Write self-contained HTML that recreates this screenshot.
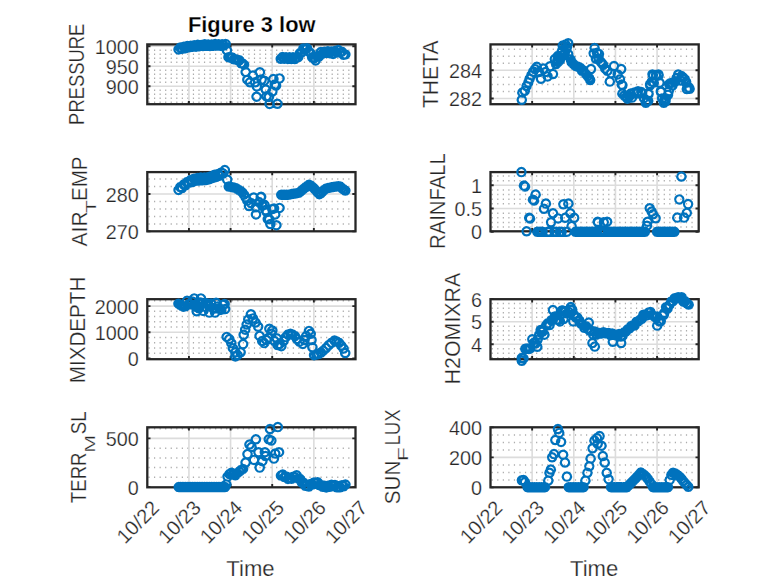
<!DOCTYPE html><html><head><meta charset="utf-8"><style>html,body{margin:0;padding:0;background:#fff;width:778px;height:583px;overflow:hidden}svg{display:block}text{font-family:"Liberation Sans",sans-serif;stroke:#fff;stroke-width:0.25px;paint-order:normal}</style></head><body><svg width="778" height="583" viewBox="0 0 778 583"><rect width="778" height="583" fill="#fff"/><g><path d="M148.45 101.45h1.2v1.5h-1.2zM154 101.45h1.2v1.5h-1.2zM159.55 101.45h1.2v1.5h-1.2zM165.1 101.45h1.2v1.5h-1.2zM170.65 101.45h1.2v1.5h-1.2zM176.2 101.45h1.2v1.5h-1.2zM181.75 101.45h1.2v1.5h-1.2zM187.3 101.45h1.2v1.5h-1.2zM192.85 101.45h1.2v1.5h-1.2zM198.4 101.45h1.2v1.5h-1.2zM203.95 101.45h1.2v1.5h-1.2zM209.5 101.45h1.2v1.5h-1.2zM215.05 101.45h1.2v1.5h-1.2zM220.6 101.45h1.2v1.5h-1.2zM226.15 101.45h1.2v1.5h-1.2zM231.7 101.45h1.2v1.5h-1.2zM237.25 101.45h1.2v1.5h-1.2zM242.8 101.45h1.2v1.5h-1.2zM248.35 101.45h1.2v1.5h-1.2zM253.9 101.45h1.2v1.5h-1.2zM259.45 101.45h1.2v1.5h-1.2zM265 101.45h1.2v1.5h-1.2zM270.55 101.45h1.2v1.5h-1.2zM276.1 101.45h1.2v1.5h-1.2zM281.65 101.45h1.2v1.5h-1.2zM287.2 101.45h1.2v1.5h-1.2zM292.75 101.45h1.2v1.5h-1.2zM298.3 101.45h1.2v1.5h-1.2zM303.85 101.45h1.2v1.5h-1.2zM309.4 101.45h1.2v1.5h-1.2zM314.95 101.45h1.2v1.5h-1.2zM320.5 101.45h1.2v1.5h-1.2zM326.05 101.45h1.2v1.5h-1.2zM331.6 101.45h1.2v1.5h-1.2zM337.15 101.45h1.2v1.5h-1.2zM342.7 101.45h1.2v1.5h-1.2zM348.25 101.45h1.2v1.5h-1.2zM148.45 97.45h1.2v1.5h-1.2zM154 97.45h1.2v1.5h-1.2zM159.55 97.45h1.2v1.5h-1.2zM165.1 97.45h1.2v1.5h-1.2zM170.65 97.45h1.2v1.5h-1.2zM176.2 97.45h1.2v1.5h-1.2zM181.75 97.45h1.2v1.5h-1.2zM187.3 97.45h1.2v1.5h-1.2zM192.85 97.45h1.2v1.5h-1.2zM198.4 97.45h1.2v1.5h-1.2zM203.95 97.45h1.2v1.5h-1.2zM209.5 97.45h1.2v1.5h-1.2zM215.05 97.45h1.2v1.5h-1.2zM220.6 97.45h1.2v1.5h-1.2zM226.15 97.45h1.2v1.5h-1.2zM231.7 97.45h1.2v1.5h-1.2zM237.25 97.45h1.2v1.5h-1.2zM242.8 97.45h1.2v1.5h-1.2zM248.35 97.45h1.2v1.5h-1.2zM253.9 97.45h1.2v1.5h-1.2zM259.45 97.45h1.2v1.5h-1.2zM265 97.45h1.2v1.5h-1.2zM270.55 97.45h1.2v1.5h-1.2zM276.1 97.45h1.2v1.5h-1.2zM281.65 97.45h1.2v1.5h-1.2zM287.2 97.45h1.2v1.5h-1.2zM292.75 97.45h1.2v1.5h-1.2zM298.3 97.45h1.2v1.5h-1.2zM303.85 97.45h1.2v1.5h-1.2zM309.4 97.45h1.2v1.5h-1.2zM314.95 97.45h1.2v1.5h-1.2zM320.5 97.45h1.2v1.5h-1.2zM326.05 97.45h1.2v1.5h-1.2zM331.6 97.45h1.2v1.5h-1.2zM337.15 97.45h1.2v1.5h-1.2zM342.7 97.45h1.2v1.5h-1.2zM348.25 97.45h1.2v1.5h-1.2zM148.45 93.45h1.2v1.5h-1.2zM154 93.45h1.2v1.5h-1.2zM159.55 93.45h1.2v1.5h-1.2zM165.1 93.45h1.2v1.5h-1.2zM170.65 93.45h1.2v1.5h-1.2zM176.2 93.45h1.2v1.5h-1.2zM181.75 93.45h1.2v1.5h-1.2zM187.3 93.45h1.2v1.5h-1.2zM192.85 93.45h1.2v1.5h-1.2zM198.4 93.45h1.2v1.5h-1.2zM203.95 93.45h1.2v1.5h-1.2zM209.5 93.45h1.2v1.5h-1.2zM215.05 93.45h1.2v1.5h-1.2zM220.6 93.45h1.2v1.5h-1.2zM226.15 93.45h1.2v1.5h-1.2zM231.7 93.45h1.2v1.5h-1.2zM237.25 93.45h1.2v1.5h-1.2zM242.8 93.45h1.2v1.5h-1.2zM248.35 93.45h1.2v1.5h-1.2zM253.9 93.45h1.2v1.5h-1.2zM259.45 93.45h1.2v1.5h-1.2zM265 93.45h1.2v1.5h-1.2zM270.55 93.45h1.2v1.5h-1.2zM276.1 93.45h1.2v1.5h-1.2zM281.65 93.45h1.2v1.5h-1.2zM287.2 93.45h1.2v1.5h-1.2zM292.75 93.45h1.2v1.5h-1.2zM298.3 93.45h1.2v1.5h-1.2zM303.85 93.45h1.2v1.5h-1.2zM309.4 93.45h1.2v1.5h-1.2zM314.95 93.45h1.2v1.5h-1.2zM320.5 93.45h1.2v1.5h-1.2zM326.05 93.45h1.2v1.5h-1.2zM331.6 93.45h1.2v1.5h-1.2zM337.15 93.45h1.2v1.5h-1.2zM342.7 93.45h1.2v1.5h-1.2zM348.25 93.45h1.2v1.5h-1.2zM148.45 89.45h1.2v1.5h-1.2zM154 89.45h1.2v1.5h-1.2zM159.55 89.45h1.2v1.5h-1.2zM165.1 89.45h1.2v1.5h-1.2zM170.65 89.45h1.2v1.5h-1.2zM176.2 89.45h1.2v1.5h-1.2zM181.75 89.45h1.2v1.5h-1.2zM187.3 89.45h1.2v1.5h-1.2zM192.85 89.45h1.2v1.5h-1.2zM198.4 89.45h1.2v1.5h-1.2zM203.95 89.45h1.2v1.5h-1.2zM209.5 89.45h1.2v1.5h-1.2zM215.05 89.45h1.2v1.5h-1.2zM220.6 89.45h1.2v1.5h-1.2zM226.15 89.45h1.2v1.5h-1.2zM231.7 89.45h1.2v1.5h-1.2zM237.25 89.45h1.2v1.5h-1.2zM242.8 89.45h1.2v1.5h-1.2zM248.35 89.45h1.2v1.5h-1.2zM253.9 89.45h1.2v1.5h-1.2zM259.45 89.45h1.2v1.5h-1.2zM265 89.45h1.2v1.5h-1.2zM270.55 89.45h1.2v1.5h-1.2zM276.1 89.45h1.2v1.5h-1.2zM281.65 89.45h1.2v1.5h-1.2zM287.2 89.45h1.2v1.5h-1.2zM292.75 89.45h1.2v1.5h-1.2zM298.3 89.45h1.2v1.5h-1.2zM303.85 89.45h1.2v1.5h-1.2zM309.4 89.45h1.2v1.5h-1.2zM314.95 89.45h1.2v1.5h-1.2zM320.5 89.45h1.2v1.5h-1.2zM326.05 89.45h1.2v1.5h-1.2zM331.6 89.45h1.2v1.5h-1.2zM337.15 89.45h1.2v1.5h-1.2zM342.7 89.45h1.2v1.5h-1.2zM348.25 89.45h1.2v1.5h-1.2zM148.45 81.45h1.2v1.5h-1.2zM154 81.45h1.2v1.5h-1.2zM159.55 81.45h1.2v1.5h-1.2zM165.1 81.45h1.2v1.5h-1.2zM170.65 81.45h1.2v1.5h-1.2zM176.2 81.45h1.2v1.5h-1.2zM181.75 81.45h1.2v1.5h-1.2zM187.3 81.45h1.2v1.5h-1.2zM192.85 81.45h1.2v1.5h-1.2zM198.4 81.45h1.2v1.5h-1.2zM203.95 81.45h1.2v1.5h-1.2zM209.5 81.45h1.2v1.5h-1.2zM215.05 81.45h1.2v1.5h-1.2zM220.6 81.45h1.2v1.5h-1.2zM226.15 81.45h1.2v1.5h-1.2zM231.7 81.45h1.2v1.5h-1.2zM237.25 81.45h1.2v1.5h-1.2zM242.8 81.45h1.2v1.5h-1.2zM248.35 81.45h1.2v1.5h-1.2zM253.9 81.45h1.2v1.5h-1.2zM259.45 81.45h1.2v1.5h-1.2zM265 81.45h1.2v1.5h-1.2zM270.55 81.45h1.2v1.5h-1.2zM276.1 81.45h1.2v1.5h-1.2zM281.65 81.45h1.2v1.5h-1.2zM287.2 81.45h1.2v1.5h-1.2zM292.75 81.45h1.2v1.5h-1.2zM298.3 81.45h1.2v1.5h-1.2zM303.85 81.45h1.2v1.5h-1.2zM309.4 81.45h1.2v1.5h-1.2zM314.95 81.45h1.2v1.5h-1.2zM320.5 81.45h1.2v1.5h-1.2zM326.05 81.45h1.2v1.5h-1.2zM331.6 81.45h1.2v1.5h-1.2zM337.15 81.45h1.2v1.5h-1.2zM342.7 81.45h1.2v1.5h-1.2zM348.25 81.45h1.2v1.5h-1.2zM148.45 77.45h1.2v1.5h-1.2zM154 77.45h1.2v1.5h-1.2zM159.55 77.45h1.2v1.5h-1.2zM165.1 77.45h1.2v1.5h-1.2zM170.65 77.45h1.2v1.5h-1.2zM176.2 77.45h1.2v1.5h-1.2zM181.75 77.45h1.2v1.5h-1.2zM187.3 77.45h1.2v1.5h-1.2zM192.85 77.45h1.2v1.5h-1.2zM198.4 77.45h1.2v1.5h-1.2zM203.95 77.45h1.2v1.5h-1.2zM209.5 77.45h1.2v1.5h-1.2zM215.05 77.45h1.2v1.5h-1.2zM220.6 77.45h1.2v1.5h-1.2zM226.15 77.45h1.2v1.5h-1.2zM231.7 77.45h1.2v1.5h-1.2zM237.25 77.45h1.2v1.5h-1.2zM242.8 77.45h1.2v1.5h-1.2zM248.35 77.45h1.2v1.5h-1.2zM253.9 77.45h1.2v1.5h-1.2zM259.45 77.45h1.2v1.5h-1.2zM265 77.45h1.2v1.5h-1.2zM270.55 77.45h1.2v1.5h-1.2zM276.1 77.45h1.2v1.5h-1.2zM281.65 77.45h1.2v1.5h-1.2zM287.2 77.45h1.2v1.5h-1.2zM292.75 77.45h1.2v1.5h-1.2zM298.3 77.45h1.2v1.5h-1.2zM303.85 77.45h1.2v1.5h-1.2zM309.4 77.45h1.2v1.5h-1.2zM314.95 77.45h1.2v1.5h-1.2zM320.5 77.45h1.2v1.5h-1.2zM326.05 77.45h1.2v1.5h-1.2zM331.6 77.45h1.2v1.5h-1.2zM337.15 77.45h1.2v1.5h-1.2zM342.7 77.45h1.2v1.5h-1.2zM348.25 77.45h1.2v1.5h-1.2zM148.45 73.45h1.2v1.5h-1.2zM154 73.45h1.2v1.5h-1.2zM159.55 73.45h1.2v1.5h-1.2zM165.1 73.45h1.2v1.5h-1.2zM170.65 73.45h1.2v1.5h-1.2zM176.2 73.45h1.2v1.5h-1.2zM181.75 73.45h1.2v1.5h-1.2zM187.3 73.45h1.2v1.5h-1.2zM192.85 73.45h1.2v1.5h-1.2zM198.4 73.45h1.2v1.5h-1.2zM203.95 73.45h1.2v1.5h-1.2zM209.5 73.45h1.2v1.5h-1.2zM215.05 73.45h1.2v1.5h-1.2zM220.6 73.45h1.2v1.5h-1.2zM226.15 73.45h1.2v1.5h-1.2zM231.7 73.45h1.2v1.5h-1.2zM237.25 73.45h1.2v1.5h-1.2zM242.8 73.45h1.2v1.5h-1.2zM248.35 73.45h1.2v1.5h-1.2zM253.9 73.45h1.2v1.5h-1.2zM259.45 73.45h1.2v1.5h-1.2zM265 73.45h1.2v1.5h-1.2zM270.55 73.45h1.2v1.5h-1.2zM276.1 73.45h1.2v1.5h-1.2zM281.65 73.45h1.2v1.5h-1.2zM287.2 73.45h1.2v1.5h-1.2zM292.75 73.45h1.2v1.5h-1.2zM298.3 73.45h1.2v1.5h-1.2zM303.85 73.45h1.2v1.5h-1.2zM309.4 73.45h1.2v1.5h-1.2zM314.95 73.45h1.2v1.5h-1.2zM320.5 73.45h1.2v1.5h-1.2zM326.05 73.45h1.2v1.5h-1.2zM331.6 73.45h1.2v1.5h-1.2zM337.15 73.45h1.2v1.5h-1.2zM342.7 73.45h1.2v1.5h-1.2zM348.25 73.45h1.2v1.5h-1.2zM148.45 69.45h1.2v1.5h-1.2zM154 69.45h1.2v1.5h-1.2zM159.55 69.45h1.2v1.5h-1.2zM165.1 69.45h1.2v1.5h-1.2zM170.65 69.45h1.2v1.5h-1.2zM176.2 69.45h1.2v1.5h-1.2zM181.75 69.45h1.2v1.5h-1.2zM187.3 69.45h1.2v1.5h-1.2zM192.85 69.45h1.2v1.5h-1.2zM198.4 69.45h1.2v1.5h-1.2zM203.95 69.45h1.2v1.5h-1.2zM209.5 69.45h1.2v1.5h-1.2zM215.05 69.45h1.2v1.5h-1.2zM220.6 69.45h1.2v1.5h-1.2zM226.15 69.45h1.2v1.5h-1.2zM231.7 69.45h1.2v1.5h-1.2zM237.25 69.45h1.2v1.5h-1.2zM242.8 69.45h1.2v1.5h-1.2zM248.35 69.45h1.2v1.5h-1.2zM253.9 69.45h1.2v1.5h-1.2zM259.45 69.45h1.2v1.5h-1.2zM265 69.45h1.2v1.5h-1.2zM270.55 69.45h1.2v1.5h-1.2zM276.1 69.45h1.2v1.5h-1.2zM281.65 69.45h1.2v1.5h-1.2zM287.2 69.45h1.2v1.5h-1.2zM292.75 69.45h1.2v1.5h-1.2zM298.3 69.45h1.2v1.5h-1.2zM303.85 69.45h1.2v1.5h-1.2zM309.4 69.45h1.2v1.5h-1.2zM314.95 69.45h1.2v1.5h-1.2zM320.5 69.45h1.2v1.5h-1.2zM326.05 69.45h1.2v1.5h-1.2zM331.6 69.45h1.2v1.5h-1.2zM337.15 69.45h1.2v1.5h-1.2zM342.7 69.45h1.2v1.5h-1.2zM348.25 69.45h1.2v1.5h-1.2zM148.45 61.45h1.2v1.5h-1.2zM154 61.45h1.2v1.5h-1.2zM159.55 61.45h1.2v1.5h-1.2zM165.1 61.45h1.2v1.5h-1.2zM170.65 61.45h1.2v1.5h-1.2zM176.2 61.45h1.2v1.5h-1.2zM181.75 61.45h1.2v1.5h-1.2zM187.3 61.45h1.2v1.5h-1.2zM192.85 61.45h1.2v1.5h-1.2zM198.4 61.45h1.2v1.5h-1.2zM203.95 61.45h1.2v1.5h-1.2zM209.5 61.45h1.2v1.5h-1.2zM215.05 61.45h1.2v1.5h-1.2zM220.6 61.45h1.2v1.5h-1.2zM226.15 61.45h1.2v1.5h-1.2zM231.7 61.45h1.2v1.5h-1.2zM237.25 61.45h1.2v1.5h-1.2zM242.8 61.45h1.2v1.5h-1.2zM248.35 61.45h1.2v1.5h-1.2zM253.9 61.45h1.2v1.5h-1.2zM259.45 61.45h1.2v1.5h-1.2zM265 61.45h1.2v1.5h-1.2zM270.55 61.45h1.2v1.5h-1.2zM276.1 61.45h1.2v1.5h-1.2zM281.65 61.45h1.2v1.5h-1.2zM287.2 61.45h1.2v1.5h-1.2zM292.75 61.45h1.2v1.5h-1.2zM298.3 61.45h1.2v1.5h-1.2zM303.85 61.45h1.2v1.5h-1.2zM309.4 61.45h1.2v1.5h-1.2zM314.95 61.45h1.2v1.5h-1.2zM320.5 61.45h1.2v1.5h-1.2zM326.05 61.45h1.2v1.5h-1.2zM331.6 61.45h1.2v1.5h-1.2zM337.15 61.45h1.2v1.5h-1.2zM342.7 61.45h1.2v1.5h-1.2zM348.25 61.45h1.2v1.5h-1.2zM148.45 57.45h1.2v1.5h-1.2zM154 57.45h1.2v1.5h-1.2zM159.55 57.45h1.2v1.5h-1.2zM165.1 57.45h1.2v1.5h-1.2zM170.65 57.45h1.2v1.5h-1.2zM176.2 57.45h1.2v1.5h-1.2zM181.75 57.45h1.2v1.5h-1.2zM187.3 57.45h1.2v1.5h-1.2zM192.85 57.45h1.2v1.5h-1.2zM198.4 57.45h1.2v1.5h-1.2zM203.95 57.45h1.2v1.5h-1.2zM209.5 57.45h1.2v1.5h-1.2zM215.05 57.45h1.2v1.5h-1.2zM220.6 57.45h1.2v1.5h-1.2zM226.15 57.45h1.2v1.5h-1.2zM231.7 57.45h1.2v1.5h-1.2zM237.25 57.45h1.2v1.5h-1.2zM242.8 57.45h1.2v1.5h-1.2zM248.35 57.45h1.2v1.5h-1.2zM253.9 57.45h1.2v1.5h-1.2zM259.45 57.45h1.2v1.5h-1.2zM265 57.45h1.2v1.5h-1.2zM270.55 57.45h1.2v1.5h-1.2zM276.1 57.45h1.2v1.5h-1.2zM281.65 57.45h1.2v1.5h-1.2zM287.2 57.45h1.2v1.5h-1.2zM292.75 57.45h1.2v1.5h-1.2zM298.3 57.45h1.2v1.5h-1.2zM303.85 57.45h1.2v1.5h-1.2zM309.4 57.45h1.2v1.5h-1.2zM314.95 57.45h1.2v1.5h-1.2zM320.5 57.45h1.2v1.5h-1.2zM326.05 57.45h1.2v1.5h-1.2zM331.6 57.45h1.2v1.5h-1.2zM337.15 57.45h1.2v1.5h-1.2zM342.7 57.45h1.2v1.5h-1.2zM348.25 57.45h1.2v1.5h-1.2zM148.45 53.45h1.2v1.5h-1.2zM154 53.45h1.2v1.5h-1.2zM159.55 53.45h1.2v1.5h-1.2zM165.1 53.45h1.2v1.5h-1.2zM170.65 53.45h1.2v1.5h-1.2zM176.2 53.45h1.2v1.5h-1.2zM181.75 53.45h1.2v1.5h-1.2zM187.3 53.45h1.2v1.5h-1.2zM192.85 53.45h1.2v1.5h-1.2zM198.4 53.45h1.2v1.5h-1.2zM203.95 53.45h1.2v1.5h-1.2zM209.5 53.45h1.2v1.5h-1.2zM215.05 53.45h1.2v1.5h-1.2zM220.6 53.45h1.2v1.5h-1.2zM226.15 53.45h1.2v1.5h-1.2zM231.7 53.45h1.2v1.5h-1.2zM237.25 53.45h1.2v1.5h-1.2zM242.8 53.45h1.2v1.5h-1.2zM248.35 53.45h1.2v1.5h-1.2zM253.9 53.45h1.2v1.5h-1.2zM259.45 53.45h1.2v1.5h-1.2zM265 53.45h1.2v1.5h-1.2zM270.55 53.45h1.2v1.5h-1.2zM276.1 53.45h1.2v1.5h-1.2zM281.65 53.45h1.2v1.5h-1.2zM287.2 53.45h1.2v1.5h-1.2zM292.75 53.45h1.2v1.5h-1.2zM298.3 53.45h1.2v1.5h-1.2zM303.85 53.45h1.2v1.5h-1.2zM309.4 53.45h1.2v1.5h-1.2zM314.95 53.45h1.2v1.5h-1.2zM320.5 53.45h1.2v1.5h-1.2zM326.05 53.45h1.2v1.5h-1.2zM331.6 53.45h1.2v1.5h-1.2zM337.15 53.45h1.2v1.5h-1.2zM342.7 53.45h1.2v1.5h-1.2zM348.25 53.45h1.2v1.5h-1.2zM148.45 49.45h1.2v1.5h-1.2zM154 49.45h1.2v1.5h-1.2zM159.55 49.45h1.2v1.5h-1.2zM165.1 49.45h1.2v1.5h-1.2zM170.65 49.45h1.2v1.5h-1.2zM176.2 49.45h1.2v1.5h-1.2zM181.75 49.45h1.2v1.5h-1.2zM187.3 49.45h1.2v1.5h-1.2zM192.85 49.45h1.2v1.5h-1.2zM198.4 49.45h1.2v1.5h-1.2zM203.95 49.45h1.2v1.5h-1.2zM209.5 49.45h1.2v1.5h-1.2zM215.05 49.45h1.2v1.5h-1.2zM220.6 49.45h1.2v1.5h-1.2zM226.15 49.45h1.2v1.5h-1.2zM231.7 49.45h1.2v1.5h-1.2zM237.25 49.45h1.2v1.5h-1.2zM242.8 49.45h1.2v1.5h-1.2zM248.35 49.45h1.2v1.5h-1.2zM253.9 49.45h1.2v1.5h-1.2zM259.45 49.45h1.2v1.5h-1.2zM265 49.45h1.2v1.5h-1.2zM270.55 49.45h1.2v1.5h-1.2zM276.1 49.45h1.2v1.5h-1.2zM281.65 49.45h1.2v1.5h-1.2zM287.2 49.45h1.2v1.5h-1.2zM292.75 49.45h1.2v1.5h-1.2zM298.3 49.45h1.2v1.5h-1.2zM303.85 49.45h1.2v1.5h-1.2zM309.4 49.45h1.2v1.5h-1.2zM314.95 49.45h1.2v1.5h-1.2zM320.5 49.45h1.2v1.5h-1.2zM326.05 49.45h1.2v1.5h-1.2zM331.6 49.45h1.2v1.5h-1.2zM337.15 49.45h1.2v1.5h-1.2zM342.7 49.45h1.2v1.5h-1.2zM348.25 49.45h1.2v1.5h-1.2z" fill="#adadad"/><path d="M147.3 86.2H355.5M147.3 66.2H355.5M147.3 46.2H355.5M188.94 44.4V104.2M230.58 44.4V104.2M272.22 44.4V104.2M313.86 44.4V104.2" stroke="#dcdcdc" stroke-width="1.6" fill="none"/><path d="M147.3 86.2h3.2M355.5 86.2h-3.2M147.3 66.2h3.2M355.5 66.2h-3.2M147.3 46.2h3.2M355.5 46.2h-3.2M188.94 104.2v-3.2M188.94 44.4v3.2M230.58 104.2v-3.2M230.58 44.4v3.2M272.22 104.2v-3.2M272.22 44.4v3.2M313.86 104.2v-3.2M313.86 44.4v3.2" stroke="#262626" stroke-width="1.9" fill="none"/><rect x="147.3" y="44.4" width="208.2" height="59.8" fill="none" stroke="#262626" stroke-width="2.3"/><path d="M178.6 45.29a4.15 4.15 0 1 0 0.01 0zM180.34 43.43a4.15 4.15 0 1 0 0.01 0zM182.08 44.62a4.15 4.15 0 1 0 0.01 0zM183.82 42.61a4.15 4.15 0 1 0 0.01 0zM185.56 44.04a4.15 4.15 0 1 0 0.01 0zM187.3 41.85a4.15 4.15 0 1 0 0.01 0zM189.04 43.1a4.15 4.15 0 1 0 0.01 0zM190.79 41.66a4.15 4.15 0 1 0 0.01 0zM192.53 42.67a4.15 4.15 0 1 0 0.01 0zM194.27 41.13a4.15 4.15 0 1 0 0.01 0zM196.01 42.56a4.15 4.15 0 1 0 0.01 0zM197.75 40.65a4.15 4.15 0 1 0 0.01 0zM199.49 42.09a4.15 4.15 0 1 0 0.01 0zM201.23 40.76a4.15 4.15 0 1 0 0.01 0zM202.97 41.85a4.15 4.15 0 1 0 0.01 0zM204.71 40.16a4.15 4.15 0 1 0 0.01 0zM206.45 41.65a4.15 4.15 0 1 0 0.01 0zM208.19 40.28a4.15 4.15 0 1 0 0.01 0zM209.93 41.94a4.15 4.15 0 1 0 0.01 0zM211.67 40.42a4.15 4.15 0 1 0 0.01 0zM213.41 41.7a4.15 4.15 0 1 0 0.01 0zM215.16 39.89a4.15 4.15 0 1 0 0.01 0zM216.9 41.44a4.15 4.15 0 1 0 0.01 0zM218.64 40.02a4.15 4.15 0 1 0 0.01 0zM220.38 41.71a4.15 4.15 0 1 0 0.01 0zM222.12 40.15a4.15 4.15 0 1 0 0.01 0zM223.86 41.45a4.15 4.15 0 1 0 0.01 0zM225.6 39.77a4.15 4.15 0 1 0 0.01 0zM226.9 46.15a4.15 4.15 0 1 0 0.01 0zM228.5 53.03a4.15 4.15 0 1 0 0.01 0zM230.31 53.58a4.15 4.15 0 1 0 0.01 0zM232.12 53.28a4.15 4.15 0 1 0 0.01 0zM233.94 55.1a4.15 4.15 0 1 0 0.01 0zM235.75 55.09a4.15 4.15 0 1 0 0.01 0zM237.56 55.87a4.15 4.15 0 1 0 0.01 0zM239.38 56.16a4.15 4.15 0 1 0 0.01 0zM241.19 59.18a4.15 4.15 0 1 0 0.01 0zM243 59.72a4.15 4.15 0 1 0 0.01 0zM244 60.55a4.15 4.15 0 1 0 0.01 0zM245.7 67.85a4.15 4.15 0 1 0 0.01 0zM247.4 75.55a4.15 4.15 0 1 0 0.01 0zM250 78.15a4.15 4.15 0 1 0 0.01 0zM252.8 71.35a4.15 4.15 0 1 0 0.01 0zM255.2 78.15a4.15 4.15 0 1 0 0.01 0zM256.8 82.25a4.15 4.15 0 1 0 0.01 0zM256.6 92.55a4.15 4.15 0 1 0 0.01 0zM259.9 68.05a4.15 4.15 0 1 0 0.01 0zM261.6 75.45a4.15 4.15 0 1 0 0.01 0zM264.3 76.55a4.15 4.15 0 1 0 0.01 0zM265.8 85.35a4.15 4.15 0 1 0 0.01 0zM266.5 92.15a4.15 4.15 0 1 0 0.01 0zM268.9 92.75a4.15 4.15 0 1 0 0.01 0zM269.6 99.75a4.15 4.15 0 1 0 0.01 0zM272.3 87.35a4.15 4.15 0 1 0 0.01 0zM273.4 74.85a4.15 4.15 0 1 0 0.01 0zM274.8 80.45a4.15 4.15 0 1 0 0.01 0zM276 81.55a4.15 4.15 0 1 0 0.01 0zM277.4 99.65a4.15 4.15 0 1 0 0.01 0zM279.5 74.25a4.15 4.15 0 1 0 0.01 0zM280.8 54.64a4.15 4.15 0 1 0 0.01 0zM282.54 52.94a4.15 4.15 0 1 0 0.01 0zM284.29 54.69a4.15 4.15 0 1 0 0.01 0zM286.03 53.09a4.15 4.15 0 1 0 0.01 0zM287.77 54.81a4.15 4.15 0 1 0 0.01 0zM289.52 53.05a4.15 4.15 0 1 0 0.01 0zM291.26 54.83a4.15 4.15 0 1 0 0.01 0zM293 53.08a4.15 4.15 0 1 0 0.01 0zM294.75 54.94a4.15 4.15 0 1 0 0.01 0zM296.49 53.01a4.15 4.15 0 1 0 0.01 0zM298.23 52.95a4.15 4.15 0 1 0 0.01 0zM299.98 48.92a4.15 4.15 0 1 0 0.01 0zM301.72 48.26a4.15 4.15 0 1 0 0.01 0zM303.46 44.33a4.15 4.15 0 1 0 0.01 0zM305.21 45.39a4.15 4.15 0 1 0 0.01 0zM306.95 44.04a4.15 4.15 0 1 0 0.01 0zM308.69 47.15a4.15 4.15 0 1 0 0.01 0zM310.44 48.87a4.15 4.15 0 1 0 0.01 0zM312.18 53.17a4.15 4.15 0 1 0 0.01 0zM313.92 54.11a4.15 4.15 0 1 0 0.01 0zM315.66 56.31a4.15 4.15 0 1 0 0.01 0zM317.41 52.55a4.15 4.15 0 1 0 0.01 0zM319.15 52.33a4.15 4.15 0 1 0 0.01 0zM320.89 47.82a4.15 4.15 0 1 0 0.01 0zM322.64 49.53a4.15 4.15 0 1 0 0.01 0zM324.38 47.54a4.15 4.15 0 1 0 0.01 0zM326.12 48.65a4.15 4.15 0 1 0 0.01 0zM327.87 47.11a4.15 4.15 0 1 0 0.01 0zM329.61 49.02a4.15 4.15 0 1 0 0.01 0zM331.35 47.3a4.15 4.15 0 1 0 0.01 0zM333.1 49.73a4.15 4.15 0 1 0 0.01 0zM334.84 46.96a4.15 4.15 0 1 0 0.01 0zM336.58 48.45a4.15 4.15 0 1 0 0.01 0zM338.33 45.97a4.15 4.15 0 1 0 0.01 0zM340.07 48.33a4.15 4.15 0 1 0 0.01 0zM341.81 47.5a4.15 4.15 0 1 0 0.01 0zM343.56 50.64a4.15 4.15 0 1 0 0.01 0zM345.3 50.3a4.15 4.15 0 1 0 0.01 0z" fill="none" stroke="#0072bd" stroke-width="2.2"/><text x="138.7" y="93.8" font-size="19.8" text-anchor="end" fill="#262626">900</text><text x="138.7" y="73.8" font-size="19.8" text-anchor="end" fill="#262626">950</text><text x="138.7" y="53.8" font-size="19.8" text-anchor="end" fill="#262626">1000</text></g><g><path d="M491.65 90.7h1.2v1.5h-1.2zM497.2 90.7h1.2v1.5h-1.2zM502.75 90.7h1.2v1.5h-1.2zM508.3 90.7h1.2v1.5h-1.2zM513.85 90.7h1.2v1.5h-1.2zM519.4 90.7h1.2v1.5h-1.2zM524.95 90.7h1.2v1.5h-1.2zM530.5 90.7h1.2v1.5h-1.2zM536.05 90.7h1.2v1.5h-1.2zM541.6 90.7h1.2v1.5h-1.2zM547.15 90.7h1.2v1.5h-1.2zM552.7 90.7h1.2v1.5h-1.2zM558.25 90.7h1.2v1.5h-1.2zM563.8 90.7h1.2v1.5h-1.2zM569.35 90.7h1.2v1.5h-1.2zM574.9 90.7h1.2v1.5h-1.2zM580.45 90.7h1.2v1.5h-1.2zM586 90.7h1.2v1.5h-1.2zM591.55 90.7h1.2v1.5h-1.2zM597.1 90.7h1.2v1.5h-1.2zM602.65 90.7h1.2v1.5h-1.2zM608.2 90.7h1.2v1.5h-1.2zM613.75 90.7h1.2v1.5h-1.2zM619.3 90.7h1.2v1.5h-1.2zM624.85 90.7h1.2v1.5h-1.2zM630.4 90.7h1.2v1.5h-1.2zM635.95 90.7h1.2v1.5h-1.2zM641.5 90.7h1.2v1.5h-1.2zM647.05 90.7h1.2v1.5h-1.2zM652.6 90.7h1.2v1.5h-1.2zM658.15 90.7h1.2v1.5h-1.2zM663.7 90.7h1.2v1.5h-1.2zM669.25 90.7h1.2v1.5h-1.2zM674.8 90.7h1.2v1.5h-1.2zM680.35 90.7h1.2v1.5h-1.2zM685.9 90.7h1.2v1.5h-1.2zM691.45 90.7h1.2v1.5h-1.2zM491.65 83.65h1.2v1.5h-1.2zM497.2 83.65h1.2v1.5h-1.2zM502.75 83.65h1.2v1.5h-1.2zM508.3 83.65h1.2v1.5h-1.2zM513.85 83.65h1.2v1.5h-1.2zM519.4 83.65h1.2v1.5h-1.2zM524.95 83.65h1.2v1.5h-1.2zM530.5 83.65h1.2v1.5h-1.2zM536.05 83.65h1.2v1.5h-1.2zM541.6 83.65h1.2v1.5h-1.2zM547.15 83.65h1.2v1.5h-1.2zM552.7 83.65h1.2v1.5h-1.2zM558.25 83.65h1.2v1.5h-1.2zM563.8 83.65h1.2v1.5h-1.2zM569.35 83.65h1.2v1.5h-1.2zM574.9 83.65h1.2v1.5h-1.2zM580.45 83.65h1.2v1.5h-1.2zM586 83.65h1.2v1.5h-1.2zM591.55 83.65h1.2v1.5h-1.2zM597.1 83.65h1.2v1.5h-1.2zM602.65 83.65h1.2v1.5h-1.2zM608.2 83.65h1.2v1.5h-1.2zM613.75 83.65h1.2v1.5h-1.2zM619.3 83.65h1.2v1.5h-1.2zM624.85 83.65h1.2v1.5h-1.2zM630.4 83.65h1.2v1.5h-1.2zM635.95 83.65h1.2v1.5h-1.2zM641.5 83.65h1.2v1.5h-1.2zM647.05 83.65h1.2v1.5h-1.2zM652.6 83.65h1.2v1.5h-1.2zM658.15 83.65h1.2v1.5h-1.2zM663.7 83.65h1.2v1.5h-1.2zM669.25 83.65h1.2v1.5h-1.2zM674.8 83.65h1.2v1.5h-1.2zM680.35 83.65h1.2v1.5h-1.2zM685.9 83.65h1.2v1.5h-1.2zM691.45 83.65h1.2v1.5h-1.2zM491.65 76.6h1.2v1.5h-1.2zM497.2 76.6h1.2v1.5h-1.2zM502.75 76.6h1.2v1.5h-1.2zM508.3 76.6h1.2v1.5h-1.2zM513.85 76.6h1.2v1.5h-1.2zM519.4 76.6h1.2v1.5h-1.2zM524.95 76.6h1.2v1.5h-1.2zM530.5 76.6h1.2v1.5h-1.2zM536.05 76.6h1.2v1.5h-1.2zM541.6 76.6h1.2v1.5h-1.2zM547.15 76.6h1.2v1.5h-1.2zM552.7 76.6h1.2v1.5h-1.2zM558.25 76.6h1.2v1.5h-1.2zM563.8 76.6h1.2v1.5h-1.2zM569.35 76.6h1.2v1.5h-1.2zM574.9 76.6h1.2v1.5h-1.2zM580.45 76.6h1.2v1.5h-1.2zM586 76.6h1.2v1.5h-1.2zM591.55 76.6h1.2v1.5h-1.2zM597.1 76.6h1.2v1.5h-1.2zM602.65 76.6h1.2v1.5h-1.2zM608.2 76.6h1.2v1.5h-1.2zM613.75 76.6h1.2v1.5h-1.2zM619.3 76.6h1.2v1.5h-1.2zM624.85 76.6h1.2v1.5h-1.2zM630.4 76.6h1.2v1.5h-1.2zM635.95 76.6h1.2v1.5h-1.2zM641.5 76.6h1.2v1.5h-1.2zM647.05 76.6h1.2v1.5h-1.2zM652.6 76.6h1.2v1.5h-1.2zM658.15 76.6h1.2v1.5h-1.2zM663.7 76.6h1.2v1.5h-1.2zM669.25 76.6h1.2v1.5h-1.2zM674.8 76.6h1.2v1.5h-1.2zM680.35 76.6h1.2v1.5h-1.2zM685.9 76.6h1.2v1.5h-1.2zM691.45 76.6h1.2v1.5h-1.2zM491.65 62.5h1.2v1.5h-1.2zM497.2 62.5h1.2v1.5h-1.2zM502.75 62.5h1.2v1.5h-1.2zM508.3 62.5h1.2v1.5h-1.2zM513.85 62.5h1.2v1.5h-1.2zM519.4 62.5h1.2v1.5h-1.2zM524.95 62.5h1.2v1.5h-1.2zM530.5 62.5h1.2v1.5h-1.2zM536.05 62.5h1.2v1.5h-1.2zM541.6 62.5h1.2v1.5h-1.2zM547.15 62.5h1.2v1.5h-1.2zM552.7 62.5h1.2v1.5h-1.2zM558.25 62.5h1.2v1.5h-1.2zM563.8 62.5h1.2v1.5h-1.2zM569.35 62.5h1.2v1.5h-1.2zM574.9 62.5h1.2v1.5h-1.2zM580.45 62.5h1.2v1.5h-1.2zM586 62.5h1.2v1.5h-1.2zM591.55 62.5h1.2v1.5h-1.2zM597.1 62.5h1.2v1.5h-1.2zM602.65 62.5h1.2v1.5h-1.2zM608.2 62.5h1.2v1.5h-1.2zM613.75 62.5h1.2v1.5h-1.2zM619.3 62.5h1.2v1.5h-1.2zM624.85 62.5h1.2v1.5h-1.2zM630.4 62.5h1.2v1.5h-1.2zM635.95 62.5h1.2v1.5h-1.2zM641.5 62.5h1.2v1.5h-1.2zM647.05 62.5h1.2v1.5h-1.2zM652.6 62.5h1.2v1.5h-1.2zM658.15 62.5h1.2v1.5h-1.2zM663.7 62.5h1.2v1.5h-1.2zM669.25 62.5h1.2v1.5h-1.2zM674.8 62.5h1.2v1.5h-1.2zM680.35 62.5h1.2v1.5h-1.2zM685.9 62.5h1.2v1.5h-1.2zM691.45 62.5h1.2v1.5h-1.2zM491.65 55.45h1.2v1.5h-1.2zM497.2 55.45h1.2v1.5h-1.2zM502.75 55.45h1.2v1.5h-1.2zM508.3 55.45h1.2v1.5h-1.2zM513.85 55.45h1.2v1.5h-1.2zM519.4 55.45h1.2v1.5h-1.2zM524.95 55.45h1.2v1.5h-1.2zM530.5 55.45h1.2v1.5h-1.2zM536.05 55.45h1.2v1.5h-1.2zM541.6 55.45h1.2v1.5h-1.2zM547.15 55.45h1.2v1.5h-1.2zM552.7 55.45h1.2v1.5h-1.2zM558.25 55.45h1.2v1.5h-1.2zM563.8 55.45h1.2v1.5h-1.2zM569.35 55.45h1.2v1.5h-1.2zM574.9 55.45h1.2v1.5h-1.2zM580.45 55.45h1.2v1.5h-1.2zM586 55.45h1.2v1.5h-1.2zM591.55 55.45h1.2v1.5h-1.2zM597.1 55.45h1.2v1.5h-1.2zM602.65 55.45h1.2v1.5h-1.2zM608.2 55.45h1.2v1.5h-1.2zM613.75 55.45h1.2v1.5h-1.2zM619.3 55.45h1.2v1.5h-1.2zM624.85 55.45h1.2v1.5h-1.2zM630.4 55.45h1.2v1.5h-1.2zM635.95 55.45h1.2v1.5h-1.2zM641.5 55.45h1.2v1.5h-1.2zM647.05 55.45h1.2v1.5h-1.2zM652.6 55.45h1.2v1.5h-1.2zM658.15 55.45h1.2v1.5h-1.2zM663.7 55.45h1.2v1.5h-1.2zM669.25 55.45h1.2v1.5h-1.2zM674.8 55.45h1.2v1.5h-1.2zM680.35 55.45h1.2v1.5h-1.2zM685.9 55.45h1.2v1.5h-1.2zM691.45 55.45h1.2v1.5h-1.2zM491.65 48.4h1.2v1.5h-1.2zM497.2 48.4h1.2v1.5h-1.2zM502.75 48.4h1.2v1.5h-1.2zM508.3 48.4h1.2v1.5h-1.2zM513.85 48.4h1.2v1.5h-1.2zM519.4 48.4h1.2v1.5h-1.2zM524.95 48.4h1.2v1.5h-1.2zM530.5 48.4h1.2v1.5h-1.2zM536.05 48.4h1.2v1.5h-1.2zM541.6 48.4h1.2v1.5h-1.2zM547.15 48.4h1.2v1.5h-1.2zM552.7 48.4h1.2v1.5h-1.2zM558.25 48.4h1.2v1.5h-1.2zM563.8 48.4h1.2v1.5h-1.2zM569.35 48.4h1.2v1.5h-1.2zM574.9 48.4h1.2v1.5h-1.2zM580.45 48.4h1.2v1.5h-1.2zM586 48.4h1.2v1.5h-1.2zM591.55 48.4h1.2v1.5h-1.2zM597.1 48.4h1.2v1.5h-1.2zM602.65 48.4h1.2v1.5h-1.2zM608.2 48.4h1.2v1.5h-1.2zM613.75 48.4h1.2v1.5h-1.2zM619.3 48.4h1.2v1.5h-1.2zM624.85 48.4h1.2v1.5h-1.2zM630.4 48.4h1.2v1.5h-1.2zM635.95 48.4h1.2v1.5h-1.2zM641.5 48.4h1.2v1.5h-1.2zM647.05 48.4h1.2v1.5h-1.2zM652.6 48.4h1.2v1.5h-1.2zM658.15 48.4h1.2v1.5h-1.2zM663.7 48.4h1.2v1.5h-1.2zM669.25 48.4h1.2v1.5h-1.2zM674.8 48.4h1.2v1.5h-1.2zM680.35 48.4h1.2v1.5h-1.2zM685.9 48.4h1.2v1.5h-1.2zM691.45 48.4h1.2v1.5h-1.2z" fill="#adadad"/><path d="M490.5 98.5H698.7M490.5 70.3H698.7M532.14 44.4V104.2M573.78 44.4V104.2M615.42 44.4V104.2M657.06 44.4V104.2" stroke="#dcdcdc" stroke-width="1.6" fill="none"/><path d="M490.5 98.5h3.2M698.7 98.5h-3.2M490.5 70.3h3.2M698.7 70.3h-3.2M532.14 104.2v-3.2M532.14 44.4v3.2M573.78 104.2v-3.2M573.78 44.4v3.2M615.42 104.2v-3.2M615.42 44.4v3.2M657.06 104.2v-3.2M657.06 44.4v3.2" stroke="#262626" stroke-width="1.9" fill="none"/><rect x="490.5" y="44.4" width="208.2" height="59.8" fill="none" stroke="#262626" stroke-width="2.3"/><path d="M521.8 95.65a4.15 4.15 0 1 0 0.01 0zM522.4 88.45a4.15 4.15 0 1 0 0.01 0zM524.8 86.65a4.15 4.15 0 1 0 0.01 0zM526.6 81.85a4.15 4.15 0 1 0 0.01 0zM528.4 78.25a4.15 4.15 0 1 0 0.01 0zM529.6 74.65a4.15 4.15 0 1 0 0.01 0zM531.4 71.05a4.15 4.15 0 1 0 0.01 0zM533.2 67.45a4.15 4.15 0 1 0 0.01 0zM535 64.85a4.15 4.15 0 1 0 0.01 0zM536.8 62.65a4.15 4.15 0 1 0 0.01 0zM539 67.85a4.15 4.15 0 1 0 0.01 0zM541 74.65a4.15 4.15 0 1 0 0.01 0zM543.4 64.45a4.15 4.15 0 1 0 0.01 0zM545.5 67.85a4.15 4.15 0 1 0 0.01 0zM547.6 72.25a4.15 4.15 0 1 0 0.01 0zM550 62.05a4.15 4.15 0 1 0 0.01 0zM553 69.85a4.15 4.15 0 1 0 0.01 0zM554.8 54.85a4.15 4.15 0 1 0 0.01 0zM557.4 55.85a4.15 4.15 0 1 0 0.01 0zM557.8 51.85a4.15 4.15 0 1 0 0.01 0zM559.8 52.85a4.15 4.15 0 1 0 0.01 0zM561.4 48.25a4.15 4.15 0 1 0 0.01 0zM562.2 46.25a4.15 4.15 0 1 0 0.01 0zM562.8 41.45a4.15 4.15 0 1 0 0.01 0zM565.5 40.35a4.15 4.15 0 1 0 0.01 0zM568.2 39.05a4.15 4.15 0 1 0 0.01 0zM566.4 45.05a4.15 4.15 0 1 0 0.01 0zM568.2 49.85a4.15 4.15 0 1 0 0.01 0zM570.6 55.25a4.15 4.15 0 1 0 0.01 0zM573 59.45a4.15 4.15 0 1 0 0.01 0zM576 61.85a4.15 4.15 0 1 0 0.01 0zM579 63.05a4.15 4.15 0 1 0 0.01 0zM582 66.65a4.15 4.15 0 1 0 0.01 0zM586.2 70.25a4.15 4.15 0 1 0 0.01 0zM589.2 73.85a4.15 4.15 0 1 0 0.01 0zM591 64.85a4.15 4.15 0 1 0 0.01 0zM593.6 49.25a4.15 4.15 0 1 0 0.01 0zM594.6 43.85a4.15 4.15 0 1 0 0.01 0zM597 48.65a4.15 4.15 0 1 0 0.01 0zM596 54.65a4.15 4.15 0 1 0 0.01 0zM599 49.85a4.15 4.15 0 1 0 0.01 0zM598.8 54.65a4.15 4.15 0 1 0 0.01 0zM600.8 57.65a4.15 4.15 0 1 0 0.01 0zM601.8 58.85a4.15 4.15 0 1 0 0.01 0zM603.2 60.65a4.15 4.15 0 1 0 0.01 0zM605 64.25a4.15 4.15 0 1 0 0.01 0zM607.4 66.65a4.15 4.15 0 1 0 0.01 0zM609.8 77.45a4.15 4.15 0 1 0 0.01 0zM611 69.05a4.15 4.15 0 1 0 0.01 0zM614 61.85a4.15 4.15 0 1 0 0.01 0zM617.6 70.25a4.15 4.15 0 1 0 0.01 0zM620 75.05a4.15 4.15 0 1 0 0.01 0zM621.2 64.85a4.15 4.15 0 1 0 0.01 0zM621.8 80.45a4.15 4.15 0 1 0 0.01 0zM622.5 81.15a4.15 4.15 0 1 0 0.01 0zM622.4 89.45a4.15 4.15 0 1 0 0.01 0zM624.3 91.45a4.15 4.15 0 1 0 0.01 0zM627.4 94.55a4.15 4.15 0 1 0 0.01 0zM626 93.05a4.15 4.15 0 1 0 0.01 0zM629.6 91.85a4.15 4.15 0 1 0 0.01 0zM632 93.45a4.15 4.15 0 1 0 0.01 0zM630.8 89.45a4.15 4.15 0 1 0 0.01 0zM634.4 88.25a4.15 4.15 0 1 0 0.01 0zM636.6 89.35a4.15 4.15 0 1 0 0.01 0zM638 87.05a4.15 4.15 0 1 0 0.01 0zM641.3 87.85a4.15 4.15 0 1 0 0.01 0zM643.9 94.05a4.15 4.15 0 1 0 0.01 0zM646.4 97.35a4.15 4.15 0 1 0 0.01 0zM648.2 96.65a4.15 4.15 0 1 0 0.01 0zM648.5 89.35a4.15 4.15 0 1 0 0.01 0zM650 81.15a4.15 4.15 0 1 0 0.01 0zM651.8 77.45a4.15 4.15 0 1 0 0.01 0zM652.4 70.25a4.15 4.15 0 1 0 0.01 0zM656 70.85a4.15 4.15 0 1 0 0.01 0zM658.4 70.25a4.15 4.15 0 1 0 0.01 0zM659.6 78.65a4.15 4.15 0 1 0 0.01 0zM660.8 87.05a4.15 4.15 0 1 0 0.01 0zM662 94.25a4.15 4.15 0 1 0 0.01 0zM664.4 95.45a4.15 4.15 0 1 0 0.01 0zM665.6 97.25a4.15 4.15 0 1 0 0.01 0zM668 90.65a4.15 4.15 0 1 0 0.01 0zM669.2 79.85a4.15 4.15 0 1 0 0.01 0zM672.2 78.65a4.15 4.15 0 1 0 0.01 0zM675.2 77.45a4.15 4.15 0 1 0 0.01 0zM678.2 70.25a4.15 4.15 0 1 0 0.01 0zM681.8 72.65a4.15 4.15 0 1 0 0.01 0zM684.8 75.05a4.15 4.15 0 1 0 0.01 0zM686 78.65a4.15 4.15 0 1 0 0.01 0zM688.4 83.45a4.15 4.15 0 1 0 0.01 0zM689.6 84.65a4.15 4.15 0 1 0 0.01 0zM571.5 57.85a4.15 4.15 0 1 0 0.01 0zM574.5 60.85a4.15 4.15 0 1 0 0.01 0zM577.5 62.35a4.15 4.15 0 1 0 0.01 0zM580.5 63.85a4.15 4.15 0 1 0 0.01 0zM583.5 66.35a4.15 4.15 0 1 0 0.01 0zM587.7 71.85a4.15 4.15 0 1 0 0.01 0zM590.2 75.85a4.15 4.15 0 1 0 0.01 0zM558 57.85a4.15 4.15 0 1 0 0.01 0zM560 55.85a4.15 4.15 0 1 0 0.01 0zM563 50.85a4.15 4.15 0 1 0 0.01 0zM565 47.85a4.15 4.15 0 1 0 0.01 0zM567 42.85a4.15 4.15 0 1 0 0.01 0zM556 59.85a4.15 4.15 0 1 0 0.01 0zM653 71.25a4.15 4.15 0 1 0 0.01 0zM655.9 71.25a4.15 4.15 0 1 0 0.01 0zM658.7 71.25a4.15 4.15 0 1 0 0.01 0zM650.1 79.85a4.15 4.15 0 1 0 0.01 0zM653.7 78.45a4.15 4.15 0 1 0 0.01 0zM659.5 78.45a4.15 4.15 0 1 0 0.01 0zM648.6 89.95a4.15 4.15 0 1 0 0.01 0zM642.2 89.25a4.15 4.15 0 1 0 0.01 0zM645.8 98.65a4.15 4.15 0 1 0 0.01 0zM663.8 98.65a4.15 4.15 0 1 0 0.01 0zM660.9 87.75a4.15 4.15 0 1 0 0.01 0zM666 94.25a4.15 4.15 0 1 0 0.01 0zM668.8 87.05a4.15 4.15 0 1 0 0.01 0zM670.3 79.15a4.15 4.15 0 1 0 0.01 0zM674.6 77.75a4.15 4.15 0 1 0 0.01 0zM678.2 70.45a4.15 4.15 0 1 0 0.01 0zM683.2 73.35a4.15 4.15 0 1 0 0.01 0zM686.1 77.75a4.15 4.15 0 1 0 0.01 0zM689 83.45a4.15 4.15 0 1 0 0.01 0zM686.8 84.95a4.15 4.15 0 1 0 0.01 0zM672.4 81.35a4.15 4.15 0 1 0 0.01 0zM680.4 76.25a4.15 4.15 0 1 0 0.01 0zM676.5 73.85a4.15 4.15 0 1 0 0.01 0zM681.5 71.85a4.15 4.15 0 1 0 0.01 0z" fill="none" stroke="#0072bd" stroke-width="2.2"/><text x="481.9" y="106.1" font-size="19.8" text-anchor="end" fill="#262626">282</text><text x="481.9" y="77.9" font-size="19.8" text-anchor="end" fill="#262626">284</text></g><g><path d="M148.45 223.17h1.2v1.5h-1.2zM154 223.17h1.2v1.5h-1.2zM159.55 223.17h1.2v1.5h-1.2zM165.1 223.17h1.2v1.5h-1.2zM170.65 223.17h1.2v1.5h-1.2zM176.2 223.17h1.2v1.5h-1.2zM181.75 223.17h1.2v1.5h-1.2zM187.3 223.17h1.2v1.5h-1.2zM192.85 223.17h1.2v1.5h-1.2zM198.4 223.17h1.2v1.5h-1.2zM203.95 223.17h1.2v1.5h-1.2zM209.5 223.17h1.2v1.5h-1.2zM215.05 223.17h1.2v1.5h-1.2zM220.6 223.17h1.2v1.5h-1.2zM226.15 223.17h1.2v1.5h-1.2zM231.7 223.17h1.2v1.5h-1.2zM237.25 223.17h1.2v1.5h-1.2zM242.8 223.17h1.2v1.5h-1.2zM248.35 223.17h1.2v1.5h-1.2zM253.9 223.17h1.2v1.5h-1.2zM259.45 223.17h1.2v1.5h-1.2zM265 223.17h1.2v1.5h-1.2zM270.55 223.17h1.2v1.5h-1.2zM276.1 223.17h1.2v1.5h-1.2zM281.65 223.17h1.2v1.5h-1.2zM287.2 223.17h1.2v1.5h-1.2zM292.75 223.17h1.2v1.5h-1.2zM298.3 223.17h1.2v1.5h-1.2zM303.85 223.17h1.2v1.5h-1.2zM309.4 223.17h1.2v1.5h-1.2zM314.95 223.17h1.2v1.5h-1.2zM320.5 223.17h1.2v1.5h-1.2zM326.05 223.17h1.2v1.5h-1.2zM331.6 223.17h1.2v1.5h-1.2zM337.15 223.17h1.2v1.5h-1.2zM342.7 223.17h1.2v1.5h-1.2zM348.25 223.17h1.2v1.5h-1.2zM148.45 215.69h1.2v1.5h-1.2zM154 215.69h1.2v1.5h-1.2zM159.55 215.69h1.2v1.5h-1.2zM165.1 215.69h1.2v1.5h-1.2zM170.65 215.69h1.2v1.5h-1.2zM176.2 215.69h1.2v1.5h-1.2zM181.75 215.69h1.2v1.5h-1.2zM187.3 215.69h1.2v1.5h-1.2zM192.85 215.69h1.2v1.5h-1.2zM198.4 215.69h1.2v1.5h-1.2zM203.95 215.69h1.2v1.5h-1.2zM209.5 215.69h1.2v1.5h-1.2zM215.05 215.69h1.2v1.5h-1.2zM220.6 215.69h1.2v1.5h-1.2zM226.15 215.69h1.2v1.5h-1.2zM231.7 215.69h1.2v1.5h-1.2zM237.25 215.69h1.2v1.5h-1.2zM242.8 215.69h1.2v1.5h-1.2zM248.35 215.69h1.2v1.5h-1.2zM253.9 215.69h1.2v1.5h-1.2zM259.45 215.69h1.2v1.5h-1.2zM265 215.69h1.2v1.5h-1.2zM270.55 215.69h1.2v1.5h-1.2zM276.1 215.69h1.2v1.5h-1.2zM281.65 215.69h1.2v1.5h-1.2zM287.2 215.69h1.2v1.5h-1.2zM292.75 215.69h1.2v1.5h-1.2zM298.3 215.69h1.2v1.5h-1.2zM303.85 215.69h1.2v1.5h-1.2zM309.4 215.69h1.2v1.5h-1.2zM314.95 215.69h1.2v1.5h-1.2zM320.5 215.69h1.2v1.5h-1.2zM326.05 215.69h1.2v1.5h-1.2zM331.6 215.69h1.2v1.5h-1.2zM337.15 215.69h1.2v1.5h-1.2zM342.7 215.69h1.2v1.5h-1.2zM348.25 215.69h1.2v1.5h-1.2zM148.45 208.21h1.2v1.5h-1.2zM154 208.21h1.2v1.5h-1.2zM159.55 208.21h1.2v1.5h-1.2zM165.1 208.21h1.2v1.5h-1.2zM170.65 208.21h1.2v1.5h-1.2zM176.2 208.21h1.2v1.5h-1.2zM181.75 208.21h1.2v1.5h-1.2zM187.3 208.21h1.2v1.5h-1.2zM192.85 208.21h1.2v1.5h-1.2zM198.4 208.21h1.2v1.5h-1.2zM203.95 208.21h1.2v1.5h-1.2zM209.5 208.21h1.2v1.5h-1.2zM215.05 208.21h1.2v1.5h-1.2zM220.6 208.21h1.2v1.5h-1.2zM226.15 208.21h1.2v1.5h-1.2zM231.7 208.21h1.2v1.5h-1.2zM237.25 208.21h1.2v1.5h-1.2zM242.8 208.21h1.2v1.5h-1.2zM248.35 208.21h1.2v1.5h-1.2zM253.9 208.21h1.2v1.5h-1.2zM259.45 208.21h1.2v1.5h-1.2zM265 208.21h1.2v1.5h-1.2zM270.55 208.21h1.2v1.5h-1.2zM276.1 208.21h1.2v1.5h-1.2zM281.65 208.21h1.2v1.5h-1.2zM287.2 208.21h1.2v1.5h-1.2zM292.75 208.21h1.2v1.5h-1.2zM298.3 208.21h1.2v1.5h-1.2zM303.85 208.21h1.2v1.5h-1.2zM309.4 208.21h1.2v1.5h-1.2zM314.95 208.21h1.2v1.5h-1.2zM320.5 208.21h1.2v1.5h-1.2zM326.05 208.21h1.2v1.5h-1.2zM331.6 208.21h1.2v1.5h-1.2zM337.15 208.21h1.2v1.5h-1.2zM342.7 208.21h1.2v1.5h-1.2zM348.25 208.21h1.2v1.5h-1.2zM148.45 200.73h1.2v1.5h-1.2zM154 200.73h1.2v1.5h-1.2zM159.55 200.73h1.2v1.5h-1.2zM165.1 200.73h1.2v1.5h-1.2zM170.65 200.73h1.2v1.5h-1.2zM176.2 200.73h1.2v1.5h-1.2zM181.75 200.73h1.2v1.5h-1.2zM187.3 200.73h1.2v1.5h-1.2zM192.85 200.73h1.2v1.5h-1.2zM198.4 200.73h1.2v1.5h-1.2zM203.95 200.73h1.2v1.5h-1.2zM209.5 200.73h1.2v1.5h-1.2zM215.05 200.73h1.2v1.5h-1.2zM220.6 200.73h1.2v1.5h-1.2zM226.15 200.73h1.2v1.5h-1.2zM231.7 200.73h1.2v1.5h-1.2zM237.25 200.73h1.2v1.5h-1.2zM242.8 200.73h1.2v1.5h-1.2zM248.35 200.73h1.2v1.5h-1.2zM253.9 200.73h1.2v1.5h-1.2zM259.45 200.73h1.2v1.5h-1.2zM265 200.73h1.2v1.5h-1.2zM270.55 200.73h1.2v1.5h-1.2zM276.1 200.73h1.2v1.5h-1.2zM281.65 200.73h1.2v1.5h-1.2zM287.2 200.73h1.2v1.5h-1.2zM292.75 200.73h1.2v1.5h-1.2zM298.3 200.73h1.2v1.5h-1.2zM303.85 200.73h1.2v1.5h-1.2zM309.4 200.73h1.2v1.5h-1.2zM314.95 200.73h1.2v1.5h-1.2zM320.5 200.73h1.2v1.5h-1.2zM326.05 200.73h1.2v1.5h-1.2zM331.6 200.73h1.2v1.5h-1.2zM337.15 200.73h1.2v1.5h-1.2zM342.7 200.73h1.2v1.5h-1.2zM348.25 200.73h1.2v1.5h-1.2zM148.45 185.77h1.2v1.5h-1.2zM154 185.77h1.2v1.5h-1.2zM159.55 185.77h1.2v1.5h-1.2zM165.1 185.77h1.2v1.5h-1.2zM170.65 185.77h1.2v1.5h-1.2zM176.2 185.77h1.2v1.5h-1.2zM181.75 185.77h1.2v1.5h-1.2zM187.3 185.77h1.2v1.5h-1.2zM192.85 185.77h1.2v1.5h-1.2zM198.4 185.77h1.2v1.5h-1.2zM203.95 185.77h1.2v1.5h-1.2zM209.5 185.77h1.2v1.5h-1.2zM215.05 185.77h1.2v1.5h-1.2zM220.6 185.77h1.2v1.5h-1.2zM226.15 185.77h1.2v1.5h-1.2zM231.7 185.77h1.2v1.5h-1.2zM237.25 185.77h1.2v1.5h-1.2zM242.8 185.77h1.2v1.5h-1.2zM248.35 185.77h1.2v1.5h-1.2zM253.9 185.77h1.2v1.5h-1.2zM259.45 185.77h1.2v1.5h-1.2zM265 185.77h1.2v1.5h-1.2zM270.55 185.77h1.2v1.5h-1.2zM276.1 185.77h1.2v1.5h-1.2zM281.65 185.77h1.2v1.5h-1.2zM287.2 185.77h1.2v1.5h-1.2zM292.75 185.77h1.2v1.5h-1.2zM298.3 185.77h1.2v1.5h-1.2zM303.85 185.77h1.2v1.5h-1.2zM309.4 185.77h1.2v1.5h-1.2zM314.95 185.77h1.2v1.5h-1.2zM320.5 185.77h1.2v1.5h-1.2zM326.05 185.77h1.2v1.5h-1.2zM331.6 185.77h1.2v1.5h-1.2zM337.15 185.77h1.2v1.5h-1.2zM342.7 185.77h1.2v1.5h-1.2zM348.25 185.77h1.2v1.5h-1.2zM148.45 178.29h1.2v1.5h-1.2zM154 178.29h1.2v1.5h-1.2zM159.55 178.29h1.2v1.5h-1.2zM165.1 178.29h1.2v1.5h-1.2zM170.65 178.29h1.2v1.5h-1.2zM176.2 178.29h1.2v1.5h-1.2zM181.75 178.29h1.2v1.5h-1.2zM187.3 178.29h1.2v1.5h-1.2zM192.85 178.29h1.2v1.5h-1.2zM198.4 178.29h1.2v1.5h-1.2zM203.95 178.29h1.2v1.5h-1.2zM209.5 178.29h1.2v1.5h-1.2zM215.05 178.29h1.2v1.5h-1.2zM220.6 178.29h1.2v1.5h-1.2zM226.15 178.29h1.2v1.5h-1.2zM231.7 178.29h1.2v1.5h-1.2zM237.25 178.29h1.2v1.5h-1.2zM242.8 178.29h1.2v1.5h-1.2zM248.35 178.29h1.2v1.5h-1.2zM253.9 178.29h1.2v1.5h-1.2zM259.45 178.29h1.2v1.5h-1.2zM265 178.29h1.2v1.5h-1.2zM270.55 178.29h1.2v1.5h-1.2zM276.1 178.29h1.2v1.5h-1.2zM281.65 178.29h1.2v1.5h-1.2zM287.2 178.29h1.2v1.5h-1.2zM292.75 178.29h1.2v1.5h-1.2zM298.3 178.29h1.2v1.5h-1.2zM303.85 178.29h1.2v1.5h-1.2zM309.4 178.29h1.2v1.5h-1.2zM314.95 178.29h1.2v1.5h-1.2zM320.5 178.29h1.2v1.5h-1.2zM326.05 178.29h1.2v1.5h-1.2zM331.6 178.29h1.2v1.5h-1.2zM337.15 178.29h1.2v1.5h-1.2zM342.7 178.29h1.2v1.5h-1.2zM348.25 178.29h1.2v1.5h-1.2z" fill="#adadad"/><path d="M147.3 194H355.5M188.94 172.1V231.3M230.58 172.1V231.3M272.22 172.1V231.3M313.86 172.1V231.3" stroke="#dcdcdc" stroke-width="1.6" fill="none"/><path d="M147.3 231.4h3.2M355.5 231.4h-3.2M147.3 194h3.2M355.5 194h-3.2M188.94 231.3v-3.2M188.94 172.1v3.2M230.58 231.3v-3.2M230.58 172.1v3.2M272.22 231.3v-3.2M272.22 172.1v3.2M313.86 231.3v-3.2M313.86 172.1v3.2" stroke="#262626" stroke-width="1.9" fill="none"/><rect x="147.3" y="172.1" width="208.2" height="59.2" fill="none" stroke="#262626" stroke-width="2.3"/><path d="M178.6 185.84a4.15 4.15 0 1 0 0.01 0zM180.31 182.88a4.15 4.15 0 1 0 0.01 0zM182.02 183.89a4.15 4.15 0 1 0 0.01 0zM183.73 180.39a4.15 4.15 0 1 0 0.01 0zM185.44 181.13a4.15 4.15 0 1 0 0.01 0zM187.16 177.79a4.15 4.15 0 1 0 0.01 0zM188.87 178.67a4.15 4.15 0 1 0 0.01 0zM190.58 175.86a4.15 4.15 0 1 0 0.01 0zM192.29 177.91a4.15 4.15 0 1 0 0.01 0zM194 174.53a4.15 4.15 0 1 0 0.01 0zM195.71 176.66a4.15 4.15 0 1 0 0.01 0zM197.42 173.86a4.15 4.15 0 1 0 0.01 0zM199.13 176.36a4.15 4.15 0 1 0 0.01 0zM200.84 173.34a4.15 4.15 0 1 0 0.01 0zM202.56 176.1a4.15 4.15 0 1 0 0.01 0zM204.27 173.23a4.15 4.15 0 1 0 0.01 0zM205.98 175.89a4.15 4.15 0 1 0 0.01 0zM207.69 173.08a4.15 4.15 0 1 0 0.01 0zM209.4 174.99a4.15 4.15 0 1 0 0.01 0zM211.11 172.05a4.15 4.15 0 1 0 0.01 0zM212.82 173.78a4.15 4.15 0 1 0 0.01 0zM214.53 170.56a4.15 4.15 0 1 0 0.01 0zM216.24 172.78a4.15 4.15 0 1 0 0.01 0zM217.96 169.88a4.15 4.15 0 1 0 0.01 0zM219.67 171.53a4.15 4.15 0 1 0 0.01 0zM221.38 168.46a4.15 4.15 0 1 0 0.01 0zM223.09 169.42a4.15 4.15 0 1 0 0.01 0zM224.8 165.9a4.15 4.15 0 1 0 0.01 0zM227.2 175.45a4.15 4.15 0 1 0 0.01 0zM228.8 182.35a4.15 4.15 0 1 0 0.01 0zM230.48 182.72a4.15 4.15 0 1 0 0.01 0zM232.17 183.09a4.15 4.15 0 1 0 0.01 0zM233.85 183.46a4.15 4.15 0 1 0 0.01 0zM235.53 183.84a4.15 4.15 0 1 0 0.01 0zM237.22 184.82a4.15 4.15 0 1 0 0.01 0zM238.9 185.83a4.15 4.15 0 1 0 0.01 0zM240.58 186.84a4.15 4.15 0 1 0 0.01 0zM242.27 188.34a4.15 4.15 0 1 0 0.01 0zM243.95 190.58a4.15 4.15 0 1 0 0.01 0zM245.63 193.12a4.15 4.15 0 1 0 0.01 0zM247.32 196.48a4.15 4.15 0 1 0 0.01 0zM249 201.85a4.15 4.15 0 1 0 0.01 0zM253.6 193.45a4.15 4.15 0 1 0 0.01 0zM260.8 192.85a4.15 4.15 0 1 0 0.01 0zM256 203.05a4.15 4.15 0 1 0 0.01 0zM256 210.25a4.15 4.15 0 1 0 0.01 0zM264.4 200.65a4.15 4.15 0 1 0 0.01 0zM266.8 207.85a4.15 4.15 0 1 0 0.01 0zM269.2 215.05a4.15 4.15 0 1 0 0.01 0zM270.4 219.85a4.15 4.15 0 1 0 0.01 0zM274 204.25a4.15 4.15 0 1 0 0.01 0zM275.2 210.25a4.15 4.15 0 1 0 0.01 0zM276.4 221.05a4.15 4.15 0 1 0 0.01 0zM261.1 192.65a4.15 4.15 0 1 0 0.01 0zM262.2 201.55a4.15 4.15 0 1 0 0.01 0zM265.6 205.95a4.15 4.15 0 1 0 0.01 0zM267.8 214.85a4.15 4.15 0 1 0 0.01 0zM272.3 204.85a4.15 4.15 0 1 0 0.01 0zM279.5 203.75a4.15 4.15 0 1 0 0.01 0zM251 198.85a4.15 4.15 0 1 0 0.01 0zM259 197.85a4.15 4.15 0 1 0 0.01 0zM281.3 190.65a4.15 4.15 0 1 0 0.01 0zM283.03 190.65a4.15 4.15 0 1 0 0.01 0zM284.76 190.65a4.15 4.15 0 1 0 0.01 0zM286.49 190.65a4.15 4.15 0 1 0 0.01 0zM288.22 190.59a4.15 4.15 0 1 0 0.01 0zM289.95 190.28a4.15 4.15 0 1 0 0.01 0zM291.68 189.97a4.15 4.15 0 1 0 0.01 0zM293.41 189.66a4.15 4.15 0 1 0 0.01 0zM295.14 189.35a4.15 4.15 0 1 0 0.01 0zM296.87 189.03a4.15 4.15 0 1 0 0.01 0zM298.6 188.72a4.15 4.15 0 1 0 0.01 0zM300.33 187.51a4.15 4.15 0 1 0 0.01 0zM302.06 186.03a4.15 4.15 0 1 0 0.01 0zM303.79 184.55a4.15 4.15 0 1 0 0.01 0zM305.52 183.18a4.15 4.15 0 1 0 0.01 0zM307.25 181.92a4.15 4.15 0 1 0 0.01 0zM308.98 180.66a4.15 4.15 0 1 0 0.01 0zM310.71 181.41a4.15 4.15 0 1 0 0.01 0zM312.44 182.82a4.15 4.15 0 1 0 0.01 0zM314.16 184.35a4.15 4.15 0 1 0 0.01 0zM315.89 186.23a4.15 4.15 0 1 0 0.01 0zM317.62 188.1a4.15 4.15 0 1 0 0.01 0zM319.35 189.98a4.15 4.15 0 1 0 0.01 0zM321.08 188.97a4.15 4.15 0 1 0 0.01 0zM322.81 187.24a4.15 4.15 0 1 0 0.01 0zM324.54 185.51a4.15 4.15 0 1 0 0.01 0zM326.27 184.24a4.15 4.15 0 1 0 0.01 0zM328 183.89a4.15 4.15 0 1 0 0.01 0zM329.73 183.55a4.15 4.15 0 1 0 0.01 0zM331.46 183.21a4.15 4.15 0 1 0 0.01 0zM333.19 182.87a4.15 4.15 0 1 0 0.01 0zM334.92 182.55a4.15 4.15 0 1 0 0.01 0zM336.65 182.29a4.15 4.15 0 1 0 0.01 0zM338.38 182.02a4.15 4.15 0 1 0 0.01 0zM340.11 182.37a4.15 4.15 0 1 0 0.01 0zM341.84 183.86a4.15 4.15 0 1 0 0.01 0zM343.57 185.22a4.15 4.15 0 1 0 0.01 0zM345.3 186.35a4.15 4.15 0 1 0 0.01 0z" fill="none" stroke="#0072bd" stroke-width="2.2"/><text x="138.7" y="239" font-size="19.8" text-anchor="end" fill="#262626">270</text><text x="138.7" y="201.6" font-size="19.8" text-anchor="end" fill="#262626">280</text></g><g><path d="M491.65 226.31h1.2v1.5h-1.2zM497.2 226.31h1.2v1.5h-1.2zM502.75 226.31h1.2v1.5h-1.2zM508.3 226.31h1.2v1.5h-1.2zM513.85 226.31h1.2v1.5h-1.2zM519.4 226.31h1.2v1.5h-1.2zM524.95 226.31h1.2v1.5h-1.2zM530.5 226.31h1.2v1.5h-1.2zM536.05 226.31h1.2v1.5h-1.2zM541.6 226.31h1.2v1.5h-1.2zM547.15 226.31h1.2v1.5h-1.2zM552.7 226.31h1.2v1.5h-1.2zM558.25 226.31h1.2v1.5h-1.2zM563.8 226.31h1.2v1.5h-1.2zM569.35 226.31h1.2v1.5h-1.2zM574.9 226.31h1.2v1.5h-1.2zM580.45 226.31h1.2v1.5h-1.2zM586 226.31h1.2v1.5h-1.2zM591.55 226.31h1.2v1.5h-1.2zM597.1 226.31h1.2v1.5h-1.2zM602.65 226.31h1.2v1.5h-1.2zM608.2 226.31h1.2v1.5h-1.2zM613.75 226.31h1.2v1.5h-1.2zM619.3 226.31h1.2v1.5h-1.2zM624.85 226.31h1.2v1.5h-1.2zM630.4 226.31h1.2v1.5h-1.2zM635.95 226.31h1.2v1.5h-1.2zM641.5 226.31h1.2v1.5h-1.2zM647.05 226.31h1.2v1.5h-1.2zM652.6 226.31h1.2v1.5h-1.2zM658.15 226.31h1.2v1.5h-1.2zM663.7 226.31h1.2v1.5h-1.2zM669.25 226.31h1.2v1.5h-1.2zM674.8 226.31h1.2v1.5h-1.2zM680.35 226.31h1.2v1.5h-1.2zM685.9 226.31h1.2v1.5h-1.2zM691.45 226.31h1.2v1.5h-1.2zM491.65 221.67h1.2v1.5h-1.2zM497.2 221.67h1.2v1.5h-1.2zM502.75 221.67h1.2v1.5h-1.2zM508.3 221.67h1.2v1.5h-1.2zM513.85 221.67h1.2v1.5h-1.2zM519.4 221.67h1.2v1.5h-1.2zM524.95 221.67h1.2v1.5h-1.2zM530.5 221.67h1.2v1.5h-1.2zM536.05 221.67h1.2v1.5h-1.2zM541.6 221.67h1.2v1.5h-1.2zM547.15 221.67h1.2v1.5h-1.2zM552.7 221.67h1.2v1.5h-1.2zM558.25 221.67h1.2v1.5h-1.2zM563.8 221.67h1.2v1.5h-1.2zM569.35 221.67h1.2v1.5h-1.2zM574.9 221.67h1.2v1.5h-1.2zM580.45 221.67h1.2v1.5h-1.2zM586 221.67h1.2v1.5h-1.2zM591.55 221.67h1.2v1.5h-1.2zM597.1 221.67h1.2v1.5h-1.2zM602.65 221.67h1.2v1.5h-1.2zM608.2 221.67h1.2v1.5h-1.2zM613.75 221.67h1.2v1.5h-1.2zM619.3 221.67h1.2v1.5h-1.2zM624.85 221.67h1.2v1.5h-1.2zM630.4 221.67h1.2v1.5h-1.2zM635.95 221.67h1.2v1.5h-1.2zM641.5 221.67h1.2v1.5h-1.2zM647.05 221.67h1.2v1.5h-1.2zM652.6 221.67h1.2v1.5h-1.2zM658.15 221.67h1.2v1.5h-1.2zM663.7 221.67h1.2v1.5h-1.2zM669.25 221.67h1.2v1.5h-1.2zM674.8 221.67h1.2v1.5h-1.2zM680.35 221.67h1.2v1.5h-1.2zM685.9 221.67h1.2v1.5h-1.2zM691.45 221.67h1.2v1.5h-1.2zM491.65 217.03h1.2v1.5h-1.2zM497.2 217.03h1.2v1.5h-1.2zM502.75 217.03h1.2v1.5h-1.2zM508.3 217.03h1.2v1.5h-1.2zM513.85 217.03h1.2v1.5h-1.2zM519.4 217.03h1.2v1.5h-1.2zM524.95 217.03h1.2v1.5h-1.2zM530.5 217.03h1.2v1.5h-1.2zM536.05 217.03h1.2v1.5h-1.2zM541.6 217.03h1.2v1.5h-1.2zM547.15 217.03h1.2v1.5h-1.2zM552.7 217.03h1.2v1.5h-1.2zM558.25 217.03h1.2v1.5h-1.2zM563.8 217.03h1.2v1.5h-1.2zM569.35 217.03h1.2v1.5h-1.2zM574.9 217.03h1.2v1.5h-1.2zM580.45 217.03h1.2v1.5h-1.2zM586 217.03h1.2v1.5h-1.2zM591.55 217.03h1.2v1.5h-1.2zM597.1 217.03h1.2v1.5h-1.2zM602.65 217.03h1.2v1.5h-1.2zM608.2 217.03h1.2v1.5h-1.2zM613.75 217.03h1.2v1.5h-1.2zM619.3 217.03h1.2v1.5h-1.2zM624.85 217.03h1.2v1.5h-1.2zM630.4 217.03h1.2v1.5h-1.2zM635.95 217.03h1.2v1.5h-1.2zM641.5 217.03h1.2v1.5h-1.2zM647.05 217.03h1.2v1.5h-1.2zM652.6 217.03h1.2v1.5h-1.2zM658.15 217.03h1.2v1.5h-1.2zM663.7 217.03h1.2v1.5h-1.2zM669.25 217.03h1.2v1.5h-1.2zM674.8 217.03h1.2v1.5h-1.2zM680.35 217.03h1.2v1.5h-1.2zM685.9 217.03h1.2v1.5h-1.2zM691.45 217.03h1.2v1.5h-1.2zM491.65 212.39h1.2v1.5h-1.2zM497.2 212.39h1.2v1.5h-1.2zM502.75 212.39h1.2v1.5h-1.2zM508.3 212.39h1.2v1.5h-1.2zM513.85 212.39h1.2v1.5h-1.2zM519.4 212.39h1.2v1.5h-1.2zM524.95 212.39h1.2v1.5h-1.2zM530.5 212.39h1.2v1.5h-1.2zM536.05 212.39h1.2v1.5h-1.2zM541.6 212.39h1.2v1.5h-1.2zM547.15 212.39h1.2v1.5h-1.2zM552.7 212.39h1.2v1.5h-1.2zM558.25 212.39h1.2v1.5h-1.2zM563.8 212.39h1.2v1.5h-1.2zM569.35 212.39h1.2v1.5h-1.2zM574.9 212.39h1.2v1.5h-1.2zM580.45 212.39h1.2v1.5h-1.2zM586 212.39h1.2v1.5h-1.2zM591.55 212.39h1.2v1.5h-1.2zM597.1 212.39h1.2v1.5h-1.2zM602.65 212.39h1.2v1.5h-1.2zM608.2 212.39h1.2v1.5h-1.2zM613.75 212.39h1.2v1.5h-1.2zM619.3 212.39h1.2v1.5h-1.2zM624.85 212.39h1.2v1.5h-1.2zM630.4 212.39h1.2v1.5h-1.2zM635.95 212.39h1.2v1.5h-1.2zM641.5 212.39h1.2v1.5h-1.2zM647.05 212.39h1.2v1.5h-1.2zM652.6 212.39h1.2v1.5h-1.2zM658.15 212.39h1.2v1.5h-1.2zM663.7 212.39h1.2v1.5h-1.2zM669.25 212.39h1.2v1.5h-1.2zM674.8 212.39h1.2v1.5h-1.2zM680.35 212.39h1.2v1.5h-1.2zM685.9 212.39h1.2v1.5h-1.2zM691.45 212.39h1.2v1.5h-1.2zM491.65 203.11h1.2v1.5h-1.2zM497.2 203.11h1.2v1.5h-1.2zM502.75 203.11h1.2v1.5h-1.2zM508.3 203.11h1.2v1.5h-1.2zM513.85 203.11h1.2v1.5h-1.2zM519.4 203.11h1.2v1.5h-1.2zM524.95 203.11h1.2v1.5h-1.2zM530.5 203.11h1.2v1.5h-1.2zM536.05 203.11h1.2v1.5h-1.2zM541.6 203.11h1.2v1.5h-1.2zM547.15 203.11h1.2v1.5h-1.2zM552.7 203.11h1.2v1.5h-1.2zM558.25 203.11h1.2v1.5h-1.2zM563.8 203.11h1.2v1.5h-1.2zM569.35 203.11h1.2v1.5h-1.2zM574.9 203.11h1.2v1.5h-1.2zM580.45 203.11h1.2v1.5h-1.2zM586 203.11h1.2v1.5h-1.2zM591.55 203.11h1.2v1.5h-1.2zM597.1 203.11h1.2v1.5h-1.2zM602.65 203.11h1.2v1.5h-1.2zM608.2 203.11h1.2v1.5h-1.2zM613.75 203.11h1.2v1.5h-1.2zM619.3 203.11h1.2v1.5h-1.2zM624.85 203.11h1.2v1.5h-1.2zM630.4 203.11h1.2v1.5h-1.2zM635.95 203.11h1.2v1.5h-1.2zM641.5 203.11h1.2v1.5h-1.2zM647.05 203.11h1.2v1.5h-1.2zM652.6 203.11h1.2v1.5h-1.2zM658.15 203.11h1.2v1.5h-1.2zM663.7 203.11h1.2v1.5h-1.2zM669.25 203.11h1.2v1.5h-1.2zM674.8 203.11h1.2v1.5h-1.2zM680.35 203.11h1.2v1.5h-1.2zM685.9 203.11h1.2v1.5h-1.2zM691.45 203.11h1.2v1.5h-1.2zM491.65 198.47h1.2v1.5h-1.2zM497.2 198.47h1.2v1.5h-1.2zM502.75 198.47h1.2v1.5h-1.2zM508.3 198.47h1.2v1.5h-1.2zM513.85 198.47h1.2v1.5h-1.2zM519.4 198.47h1.2v1.5h-1.2zM524.95 198.47h1.2v1.5h-1.2zM530.5 198.47h1.2v1.5h-1.2zM536.05 198.47h1.2v1.5h-1.2zM541.6 198.47h1.2v1.5h-1.2zM547.15 198.47h1.2v1.5h-1.2zM552.7 198.47h1.2v1.5h-1.2zM558.25 198.47h1.2v1.5h-1.2zM563.8 198.47h1.2v1.5h-1.2zM569.35 198.47h1.2v1.5h-1.2zM574.9 198.47h1.2v1.5h-1.2zM580.45 198.47h1.2v1.5h-1.2zM586 198.47h1.2v1.5h-1.2zM591.55 198.47h1.2v1.5h-1.2zM597.1 198.47h1.2v1.5h-1.2zM602.65 198.47h1.2v1.5h-1.2zM608.2 198.47h1.2v1.5h-1.2zM613.75 198.47h1.2v1.5h-1.2zM619.3 198.47h1.2v1.5h-1.2zM624.85 198.47h1.2v1.5h-1.2zM630.4 198.47h1.2v1.5h-1.2zM635.95 198.47h1.2v1.5h-1.2zM641.5 198.47h1.2v1.5h-1.2zM647.05 198.47h1.2v1.5h-1.2zM652.6 198.47h1.2v1.5h-1.2zM658.15 198.47h1.2v1.5h-1.2zM663.7 198.47h1.2v1.5h-1.2zM669.25 198.47h1.2v1.5h-1.2zM674.8 198.47h1.2v1.5h-1.2zM680.35 198.47h1.2v1.5h-1.2zM685.9 198.47h1.2v1.5h-1.2zM691.45 198.47h1.2v1.5h-1.2zM491.65 193.83h1.2v1.5h-1.2zM497.2 193.83h1.2v1.5h-1.2zM502.75 193.83h1.2v1.5h-1.2zM508.3 193.83h1.2v1.5h-1.2zM513.85 193.83h1.2v1.5h-1.2zM519.4 193.83h1.2v1.5h-1.2zM524.95 193.83h1.2v1.5h-1.2zM530.5 193.83h1.2v1.5h-1.2zM536.05 193.83h1.2v1.5h-1.2zM541.6 193.83h1.2v1.5h-1.2zM547.15 193.83h1.2v1.5h-1.2zM552.7 193.83h1.2v1.5h-1.2zM558.25 193.83h1.2v1.5h-1.2zM563.8 193.83h1.2v1.5h-1.2zM569.35 193.83h1.2v1.5h-1.2zM574.9 193.83h1.2v1.5h-1.2zM580.45 193.83h1.2v1.5h-1.2zM586 193.83h1.2v1.5h-1.2zM591.55 193.83h1.2v1.5h-1.2zM597.1 193.83h1.2v1.5h-1.2zM602.65 193.83h1.2v1.5h-1.2zM608.2 193.83h1.2v1.5h-1.2zM613.75 193.83h1.2v1.5h-1.2zM619.3 193.83h1.2v1.5h-1.2zM624.85 193.83h1.2v1.5h-1.2zM630.4 193.83h1.2v1.5h-1.2zM635.95 193.83h1.2v1.5h-1.2zM641.5 193.83h1.2v1.5h-1.2zM647.05 193.83h1.2v1.5h-1.2zM652.6 193.83h1.2v1.5h-1.2zM658.15 193.83h1.2v1.5h-1.2zM663.7 193.83h1.2v1.5h-1.2zM669.25 193.83h1.2v1.5h-1.2zM674.8 193.83h1.2v1.5h-1.2zM680.35 193.83h1.2v1.5h-1.2zM685.9 193.83h1.2v1.5h-1.2zM691.45 193.83h1.2v1.5h-1.2zM491.65 189.19h1.2v1.5h-1.2zM497.2 189.19h1.2v1.5h-1.2zM502.75 189.19h1.2v1.5h-1.2zM508.3 189.19h1.2v1.5h-1.2zM513.85 189.19h1.2v1.5h-1.2zM519.4 189.19h1.2v1.5h-1.2zM524.95 189.19h1.2v1.5h-1.2zM530.5 189.19h1.2v1.5h-1.2zM536.05 189.19h1.2v1.5h-1.2zM541.6 189.19h1.2v1.5h-1.2zM547.15 189.19h1.2v1.5h-1.2zM552.7 189.19h1.2v1.5h-1.2zM558.25 189.19h1.2v1.5h-1.2zM563.8 189.19h1.2v1.5h-1.2zM569.35 189.19h1.2v1.5h-1.2zM574.9 189.19h1.2v1.5h-1.2zM580.45 189.19h1.2v1.5h-1.2zM586 189.19h1.2v1.5h-1.2zM591.55 189.19h1.2v1.5h-1.2zM597.1 189.19h1.2v1.5h-1.2zM602.65 189.19h1.2v1.5h-1.2zM608.2 189.19h1.2v1.5h-1.2zM613.75 189.19h1.2v1.5h-1.2zM619.3 189.19h1.2v1.5h-1.2zM624.85 189.19h1.2v1.5h-1.2zM630.4 189.19h1.2v1.5h-1.2zM635.95 189.19h1.2v1.5h-1.2zM641.5 189.19h1.2v1.5h-1.2zM647.05 189.19h1.2v1.5h-1.2zM652.6 189.19h1.2v1.5h-1.2zM658.15 189.19h1.2v1.5h-1.2zM663.7 189.19h1.2v1.5h-1.2zM669.25 189.19h1.2v1.5h-1.2zM674.8 189.19h1.2v1.5h-1.2zM680.35 189.19h1.2v1.5h-1.2zM685.9 189.19h1.2v1.5h-1.2zM691.45 189.19h1.2v1.5h-1.2zM491.65 179.91h1.2v1.5h-1.2zM497.2 179.91h1.2v1.5h-1.2zM502.75 179.91h1.2v1.5h-1.2zM508.3 179.91h1.2v1.5h-1.2zM513.85 179.91h1.2v1.5h-1.2zM519.4 179.91h1.2v1.5h-1.2zM524.95 179.91h1.2v1.5h-1.2zM530.5 179.91h1.2v1.5h-1.2zM536.05 179.91h1.2v1.5h-1.2zM541.6 179.91h1.2v1.5h-1.2zM547.15 179.91h1.2v1.5h-1.2zM552.7 179.91h1.2v1.5h-1.2zM558.25 179.91h1.2v1.5h-1.2zM563.8 179.91h1.2v1.5h-1.2zM569.35 179.91h1.2v1.5h-1.2zM574.9 179.91h1.2v1.5h-1.2zM580.45 179.91h1.2v1.5h-1.2zM586 179.91h1.2v1.5h-1.2zM591.55 179.91h1.2v1.5h-1.2zM597.1 179.91h1.2v1.5h-1.2zM602.65 179.91h1.2v1.5h-1.2zM608.2 179.91h1.2v1.5h-1.2zM613.75 179.91h1.2v1.5h-1.2zM619.3 179.91h1.2v1.5h-1.2zM624.85 179.91h1.2v1.5h-1.2zM630.4 179.91h1.2v1.5h-1.2zM635.95 179.91h1.2v1.5h-1.2zM641.5 179.91h1.2v1.5h-1.2zM647.05 179.91h1.2v1.5h-1.2zM652.6 179.91h1.2v1.5h-1.2zM658.15 179.91h1.2v1.5h-1.2zM663.7 179.91h1.2v1.5h-1.2zM669.25 179.91h1.2v1.5h-1.2zM674.8 179.91h1.2v1.5h-1.2zM680.35 179.91h1.2v1.5h-1.2zM685.9 179.91h1.2v1.5h-1.2zM691.45 179.91h1.2v1.5h-1.2zM491.65 175.27h1.2v1.5h-1.2zM497.2 175.27h1.2v1.5h-1.2zM502.75 175.27h1.2v1.5h-1.2zM508.3 175.27h1.2v1.5h-1.2zM513.85 175.27h1.2v1.5h-1.2zM519.4 175.27h1.2v1.5h-1.2zM524.95 175.27h1.2v1.5h-1.2zM530.5 175.27h1.2v1.5h-1.2zM536.05 175.27h1.2v1.5h-1.2zM541.6 175.27h1.2v1.5h-1.2zM547.15 175.27h1.2v1.5h-1.2zM552.7 175.27h1.2v1.5h-1.2zM558.25 175.27h1.2v1.5h-1.2zM563.8 175.27h1.2v1.5h-1.2zM569.35 175.27h1.2v1.5h-1.2zM574.9 175.27h1.2v1.5h-1.2zM580.45 175.27h1.2v1.5h-1.2zM586 175.27h1.2v1.5h-1.2zM591.55 175.27h1.2v1.5h-1.2zM597.1 175.27h1.2v1.5h-1.2zM602.65 175.27h1.2v1.5h-1.2zM608.2 175.27h1.2v1.5h-1.2zM613.75 175.27h1.2v1.5h-1.2zM619.3 175.27h1.2v1.5h-1.2zM624.85 175.27h1.2v1.5h-1.2zM630.4 175.27h1.2v1.5h-1.2zM635.95 175.27h1.2v1.5h-1.2zM641.5 175.27h1.2v1.5h-1.2zM647.05 175.27h1.2v1.5h-1.2zM652.6 175.27h1.2v1.5h-1.2zM658.15 175.27h1.2v1.5h-1.2zM663.7 175.27h1.2v1.5h-1.2zM669.25 175.27h1.2v1.5h-1.2zM674.8 175.27h1.2v1.5h-1.2zM680.35 175.27h1.2v1.5h-1.2zM685.9 175.27h1.2v1.5h-1.2zM691.45 175.27h1.2v1.5h-1.2z" fill="#adadad"/><path d="M490.5 208.5H698.7M490.5 185.3H698.7M532.14 172.1V231.3M573.78 172.1V231.3M615.42 172.1V231.3M657.06 172.1V231.3" stroke="#dcdcdc" stroke-width="1.6" fill="none"/><path d="M490.5 231.7h3.2M698.7 231.7h-3.2M490.5 208.5h3.2M698.7 208.5h-3.2M490.5 185.3h3.2M698.7 185.3h-3.2M532.14 231.3v-3.2M532.14 172.1v3.2M573.78 231.3v-3.2M573.78 172.1v3.2M615.42 231.3v-3.2M615.42 172.1v3.2M657.06 231.3v-3.2M657.06 172.1v3.2" stroke="#262626" stroke-width="1.9" fill="none"/><rect x="490.5" y="172.1" width="208.2" height="59.2" fill="none" stroke="#262626" stroke-width="2.3"/><path d="M521.4 167.95a4.15 4.15 0 1 0 0.01 0zM524 181.45a4.15 4.15 0 1 0 0.01 0zM525 182.35a4.15 4.15 0 1 0 0.01 0zM529.2 213.65a4.15 4.15 0 1 0 0.01 0zM530 214.35a4.15 4.15 0 1 0 0.01 0zM526.6 227.15a4.15 4.15 0 1 0 0.01 0zM535.6 190.45a4.15 4.15 0 1 0 0.01 0zM533 195.55a4.15 4.15 0 1 0 0.01 0zM534 196.35a4.15 4.15 0 1 0 0.01 0zM545.9 199.45a4.15 4.15 0 1 0 0.01 0zM544 204.65a4.15 4.15 0 1 0 0.01 0zM553 209.15a4.15 4.15 0 1 0 0.01 0zM551 218.15a4.15 4.15 0 1 0 0.01 0zM558.1 214.25a4.15 4.15 0 1 0 0.01 0zM563.3 200.15a4.15 4.15 0 1 0 0.01 0zM568.4 199.45a4.15 4.15 0 1 0 0.01 0zM565.2 213.65a4.15 4.15 0 1 0 0.01 0zM570.3 209.15a4.15 4.15 0 1 0 0.01 0zM574.2 213.65a4.15 4.15 0 1 0 0.01 0zM571.6 221.95a4.15 4.15 0 1 0 0.01 0zM598 218.15a4.15 4.15 0 1 0 0.01 0zM603.8 218.15a4.15 4.15 0 1 0 0.01 0zM597.7 217.55a4.15 4.15 0 1 0 0.01 0zM607.1 217.55a4.15 4.15 0 1 0 0.01 0zM649.7 204.05a4.15 4.15 0 1 0 0.01 0zM651.7 207.45a4.15 4.15 0 1 0 0.01 0zM653 210.15a4.15 4.15 0 1 0 0.01 0zM655.7 214.15a4.15 4.15 0 1 0 0.01 0zM647.6 217.55a4.15 4.15 0 1 0 0.01 0zM647 221.55a4.15 4.15 0 1 0 0.01 0zM681.4 172.35a4.15 4.15 0 1 0 0.01 0zM679.3 195.25a4.15 4.15 0 1 0 0.01 0zM688.1 199.95a4.15 4.15 0 1 0 0.01 0zM686.8 208.75a4.15 4.15 0 1 0 0.01 0zM677.3 213.45a4.15 4.15 0 1 0 0.01 0zM684.1 213.45a4.15 4.15 0 1 0 0.01 0zM537.32 227.65a4.15 4.15 0 1 0 0.01 0zM539.05 227.65a4.15 4.15 0 1 0 0.01 0zM540.79 227.65a4.15 4.15 0 1 0 0.01 0zM542.52 227.65a4.15 4.15 0 1 0 0.01 0zM547.73 227.65a4.15 4.15 0 1 0 0.01 0zM549.46 227.65a4.15 4.15 0 1 0 0.01 0zM554.67 227.65a4.15 4.15 0 1 0 0.01 0zM556.4 227.65a4.15 4.15 0 1 0 0.01 0zM559.87 227.65a4.15 4.15 0 1 0 0.01 0zM561.61 227.65a4.15 4.15 0 1 0 0.01 0zM566.81 227.65a4.15 4.15 0 1 0 0.01 0zM575.49 227.65a4.15 4.15 0 1 0 0.01 0zM577.22 227.65a4.15 4.15 0 1 0 0.01 0zM578.96 227.65a4.15 4.15 0 1 0 0.01 0zM580.69 227.65a4.15 4.15 0 1 0 0.01 0zM582.43 227.65a4.15 4.15 0 1 0 0.01 0zM584.16 227.65a4.15 4.15 0 1 0 0.01 0zM585.9 227.65a4.15 4.15 0 1 0 0.01 0zM587.63 227.65a4.15 4.15 0 1 0 0.01 0zM589.37 227.65a4.15 4.15 0 1 0 0.01 0zM591.1 227.65a4.15 4.15 0 1 0 0.01 0zM592.84 227.65a4.15 4.15 0 1 0 0.01 0zM594.57 227.65a4.15 4.15 0 1 0 0.01 0zM596.31 227.65a4.15 4.15 0 1 0 0.01 0zM599.78 227.65a4.15 4.15 0 1 0 0.01 0zM601.51 227.65a4.15 4.15 0 1 0 0.01 0zM604.98 227.65a4.15 4.15 0 1 0 0.01 0zM608.45 227.65a4.15 4.15 0 1 0 0.01 0zM610.19 227.65a4.15 4.15 0 1 0 0.01 0zM611.92 227.65a4.15 4.15 0 1 0 0.01 0zM613.66 227.65a4.15 4.15 0 1 0 0.01 0zM615.39 227.65a4.15 4.15 0 1 0 0.01 0zM617.12 227.65a4.15 4.15 0 1 0 0.01 0zM618.86 227.65a4.15 4.15 0 1 0 0.01 0zM620.6 227.65a4.15 4.15 0 1 0 0.01 0zM622.33 227.65a4.15 4.15 0 1 0 0.01 0zM624.07 227.65a4.15 4.15 0 1 0 0.01 0zM625.8 227.65a4.15 4.15 0 1 0 0.01 0zM627.54 227.65a4.15 4.15 0 1 0 0.01 0zM629.27 227.65a4.15 4.15 0 1 0 0.01 0zM631.01 227.65a4.15 4.15 0 1 0 0.01 0zM632.74 227.65a4.15 4.15 0 1 0 0.01 0zM634.48 227.65a4.15 4.15 0 1 0 0.01 0zM636.21 227.65a4.15 4.15 0 1 0 0.01 0zM637.95 227.65a4.15 4.15 0 1 0 0.01 0zM639.68 227.65a4.15 4.15 0 1 0 0.01 0zM641.42 227.65a4.15 4.15 0 1 0 0.01 0zM643.15 227.65a4.15 4.15 0 1 0 0.01 0zM644.88 227.65a4.15 4.15 0 1 0 0.01 0zM657.03 227.65a4.15 4.15 0 1 0 0.01 0zM658.77 227.65a4.15 4.15 0 1 0 0.01 0zM660.5 227.65a4.15 4.15 0 1 0 0.01 0zM662.24 227.65a4.15 4.15 0 1 0 0.01 0zM663.97 227.65a4.15 4.15 0 1 0 0.01 0zM665.71 227.65a4.15 4.15 0 1 0 0.01 0zM667.44 227.65a4.15 4.15 0 1 0 0.01 0zM669.18 227.65a4.15 4.15 0 1 0 0.01 0zM670.91 227.65a4.15 4.15 0 1 0 0.01 0zM672.65 227.65a4.15 4.15 0 1 0 0.01 0zM674.38 227.65a4.15 4.15 0 1 0 0.01 0z" fill="none" stroke="#0072bd" stroke-width="2.2"/><text x="481.9" y="239.3" font-size="19.8" text-anchor="end" fill="#262626">0</text><text x="481.9" y="216.1" font-size="19.8" text-anchor="end" fill="#262626">0.5</text><text x="481.9" y="192.9" font-size="19.8" text-anchor="end" fill="#262626">1</text></g><g><path d="M148.45 352.51h1.2v1.5h-1.2zM154 352.51h1.2v1.5h-1.2zM159.55 352.51h1.2v1.5h-1.2zM165.1 352.51h1.2v1.5h-1.2zM170.65 352.51h1.2v1.5h-1.2zM176.2 352.51h1.2v1.5h-1.2zM181.75 352.51h1.2v1.5h-1.2zM187.3 352.51h1.2v1.5h-1.2zM192.85 352.51h1.2v1.5h-1.2zM198.4 352.51h1.2v1.5h-1.2zM203.95 352.51h1.2v1.5h-1.2zM209.5 352.51h1.2v1.5h-1.2zM215.05 352.51h1.2v1.5h-1.2zM220.6 352.51h1.2v1.5h-1.2zM226.15 352.51h1.2v1.5h-1.2zM231.7 352.51h1.2v1.5h-1.2zM237.25 352.51h1.2v1.5h-1.2zM242.8 352.51h1.2v1.5h-1.2zM248.35 352.51h1.2v1.5h-1.2zM253.9 352.51h1.2v1.5h-1.2zM259.45 352.51h1.2v1.5h-1.2zM265 352.51h1.2v1.5h-1.2zM270.55 352.51h1.2v1.5h-1.2zM276.1 352.51h1.2v1.5h-1.2zM281.65 352.51h1.2v1.5h-1.2zM287.2 352.51h1.2v1.5h-1.2zM292.75 352.51h1.2v1.5h-1.2zM298.3 352.51h1.2v1.5h-1.2zM303.85 352.51h1.2v1.5h-1.2zM309.4 352.51h1.2v1.5h-1.2zM314.95 352.51h1.2v1.5h-1.2zM320.5 352.51h1.2v1.5h-1.2zM326.05 352.51h1.2v1.5h-1.2zM331.6 352.51h1.2v1.5h-1.2zM337.15 352.51h1.2v1.5h-1.2zM342.7 352.51h1.2v1.5h-1.2zM348.25 352.51h1.2v1.5h-1.2zM148.45 347.27h1.2v1.5h-1.2zM154 347.27h1.2v1.5h-1.2zM159.55 347.27h1.2v1.5h-1.2zM165.1 347.27h1.2v1.5h-1.2zM170.65 347.27h1.2v1.5h-1.2zM176.2 347.27h1.2v1.5h-1.2zM181.75 347.27h1.2v1.5h-1.2zM187.3 347.27h1.2v1.5h-1.2zM192.85 347.27h1.2v1.5h-1.2zM198.4 347.27h1.2v1.5h-1.2zM203.95 347.27h1.2v1.5h-1.2zM209.5 347.27h1.2v1.5h-1.2zM215.05 347.27h1.2v1.5h-1.2zM220.6 347.27h1.2v1.5h-1.2zM226.15 347.27h1.2v1.5h-1.2zM231.7 347.27h1.2v1.5h-1.2zM237.25 347.27h1.2v1.5h-1.2zM242.8 347.27h1.2v1.5h-1.2zM248.35 347.27h1.2v1.5h-1.2zM253.9 347.27h1.2v1.5h-1.2zM259.45 347.27h1.2v1.5h-1.2zM265 347.27h1.2v1.5h-1.2zM270.55 347.27h1.2v1.5h-1.2zM276.1 347.27h1.2v1.5h-1.2zM281.65 347.27h1.2v1.5h-1.2zM287.2 347.27h1.2v1.5h-1.2zM292.75 347.27h1.2v1.5h-1.2zM298.3 347.27h1.2v1.5h-1.2zM303.85 347.27h1.2v1.5h-1.2zM309.4 347.27h1.2v1.5h-1.2zM314.95 347.27h1.2v1.5h-1.2zM320.5 347.27h1.2v1.5h-1.2zM326.05 347.27h1.2v1.5h-1.2zM331.6 347.27h1.2v1.5h-1.2zM337.15 347.27h1.2v1.5h-1.2zM342.7 347.27h1.2v1.5h-1.2zM348.25 347.27h1.2v1.5h-1.2zM148.45 342.03h1.2v1.5h-1.2zM154 342.03h1.2v1.5h-1.2zM159.55 342.03h1.2v1.5h-1.2zM165.1 342.03h1.2v1.5h-1.2zM170.65 342.03h1.2v1.5h-1.2zM176.2 342.03h1.2v1.5h-1.2zM181.75 342.03h1.2v1.5h-1.2zM187.3 342.03h1.2v1.5h-1.2zM192.85 342.03h1.2v1.5h-1.2zM198.4 342.03h1.2v1.5h-1.2zM203.95 342.03h1.2v1.5h-1.2zM209.5 342.03h1.2v1.5h-1.2zM215.05 342.03h1.2v1.5h-1.2zM220.6 342.03h1.2v1.5h-1.2zM226.15 342.03h1.2v1.5h-1.2zM231.7 342.03h1.2v1.5h-1.2zM237.25 342.03h1.2v1.5h-1.2zM242.8 342.03h1.2v1.5h-1.2zM248.35 342.03h1.2v1.5h-1.2zM253.9 342.03h1.2v1.5h-1.2zM259.45 342.03h1.2v1.5h-1.2zM265 342.03h1.2v1.5h-1.2zM270.55 342.03h1.2v1.5h-1.2zM276.1 342.03h1.2v1.5h-1.2zM281.65 342.03h1.2v1.5h-1.2zM287.2 342.03h1.2v1.5h-1.2zM292.75 342.03h1.2v1.5h-1.2zM298.3 342.03h1.2v1.5h-1.2zM303.85 342.03h1.2v1.5h-1.2zM309.4 342.03h1.2v1.5h-1.2zM314.95 342.03h1.2v1.5h-1.2zM320.5 342.03h1.2v1.5h-1.2zM326.05 342.03h1.2v1.5h-1.2zM331.6 342.03h1.2v1.5h-1.2zM337.15 342.03h1.2v1.5h-1.2zM342.7 342.03h1.2v1.5h-1.2zM348.25 342.03h1.2v1.5h-1.2zM148.45 336.79h1.2v1.5h-1.2zM154 336.79h1.2v1.5h-1.2zM159.55 336.79h1.2v1.5h-1.2zM165.1 336.79h1.2v1.5h-1.2zM170.65 336.79h1.2v1.5h-1.2zM176.2 336.79h1.2v1.5h-1.2zM181.75 336.79h1.2v1.5h-1.2zM187.3 336.79h1.2v1.5h-1.2zM192.85 336.79h1.2v1.5h-1.2zM198.4 336.79h1.2v1.5h-1.2zM203.95 336.79h1.2v1.5h-1.2zM209.5 336.79h1.2v1.5h-1.2zM215.05 336.79h1.2v1.5h-1.2zM220.6 336.79h1.2v1.5h-1.2zM226.15 336.79h1.2v1.5h-1.2zM231.7 336.79h1.2v1.5h-1.2zM237.25 336.79h1.2v1.5h-1.2zM242.8 336.79h1.2v1.5h-1.2zM248.35 336.79h1.2v1.5h-1.2zM253.9 336.79h1.2v1.5h-1.2zM259.45 336.79h1.2v1.5h-1.2zM265 336.79h1.2v1.5h-1.2zM270.55 336.79h1.2v1.5h-1.2zM276.1 336.79h1.2v1.5h-1.2zM281.65 336.79h1.2v1.5h-1.2zM287.2 336.79h1.2v1.5h-1.2zM292.75 336.79h1.2v1.5h-1.2zM298.3 336.79h1.2v1.5h-1.2zM303.85 336.79h1.2v1.5h-1.2zM309.4 336.79h1.2v1.5h-1.2zM314.95 336.79h1.2v1.5h-1.2zM320.5 336.79h1.2v1.5h-1.2zM326.05 336.79h1.2v1.5h-1.2zM331.6 336.79h1.2v1.5h-1.2zM337.15 336.79h1.2v1.5h-1.2zM342.7 336.79h1.2v1.5h-1.2zM348.25 336.79h1.2v1.5h-1.2zM148.45 326.31h1.2v1.5h-1.2zM154 326.31h1.2v1.5h-1.2zM159.55 326.31h1.2v1.5h-1.2zM165.1 326.31h1.2v1.5h-1.2zM170.65 326.31h1.2v1.5h-1.2zM176.2 326.31h1.2v1.5h-1.2zM181.75 326.31h1.2v1.5h-1.2zM187.3 326.31h1.2v1.5h-1.2zM192.85 326.31h1.2v1.5h-1.2zM198.4 326.31h1.2v1.5h-1.2zM203.95 326.31h1.2v1.5h-1.2zM209.5 326.31h1.2v1.5h-1.2zM215.05 326.31h1.2v1.5h-1.2zM220.6 326.31h1.2v1.5h-1.2zM226.15 326.31h1.2v1.5h-1.2zM231.7 326.31h1.2v1.5h-1.2zM237.25 326.31h1.2v1.5h-1.2zM242.8 326.31h1.2v1.5h-1.2zM248.35 326.31h1.2v1.5h-1.2zM253.9 326.31h1.2v1.5h-1.2zM259.45 326.31h1.2v1.5h-1.2zM265 326.31h1.2v1.5h-1.2zM270.55 326.31h1.2v1.5h-1.2zM276.1 326.31h1.2v1.5h-1.2zM281.65 326.31h1.2v1.5h-1.2zM287.2 326.31h1.2v1.5h-1.2zM292.75 326.31h1.2v1.5h-1.2zM298.3 326.31h1.2v1.5h-1.2zM303.85 326.31h1.2v1.5h-1.2zM309.4 326.31h1.2v1.5h-1.2zM314.95 326.31h1.2v1.5h-1.2zM320.5 326.31h1.2v1.5h-1.2zM326.05 326.31h1.2v1.5h-1.2zM331.6 326.31h1.2v1.5h-1.2zM337.15 326.31h1.2v1.5h-1.2zM342.7 326.31h1.2v1.5h-1.2zM348.25 326.31h1.2v1.5h-1.2zM148.45 321.07h1.2v1.5h-1.2zM154 321.07h1.2v1.5h-1.2zM159.55 321.07h1.2v1.5h-1.2zM165.1 321.07h1.2v1.5h-1.2zM170.65 321.07h1.2v1.5h-1.2zM176.2 321.07h1.2v1.5h-1.2zM181.75 321.07h1.2v1.5h-1.2zM187.3 321.07h1.2v1.5h-1.2zM192.85 321.07h1.2v1.5h-1.2zM198.4 321.07h1.2v1.5h-1.2zM203.95 321.07h1.2v1.5h-1.2zM209.5 321.07h1.2v1.5h-1.2zM215.05 321.07h1.2v1.5h-1.2zM220.6 321.07h1.2v1.5h-1.2zM226.15 321.07h1.2v1.5h-1.2zM231.7 321.07h1.2v1.5h-1.2zM237.25 321.07h1.2v1.5h-1.2zM242.8 321.07h1.2v1.5h-1.2zM248.35 321.07h1.2v1.5h-1.2zM253.9 321.07h1.2v1.5h-1.2zM259.45 321.07h1.2v1.5h-1.2zM265 321.07h1.2v1.5h-1.2zM270.55 321.07h1.2v1.5h-1.2zM276.1 321.07h1.2v1.5h-1.2zM281.65 321.07h1.2v1.5h-1.2zM287.2 321.07h1.2v1.5h-1.2zM292.75 321.07h1.2v1.5h-1.2zM298.3 321.07h1.2v1.5h-1.2zM303.85 321.07h1.2v1.5h-1.2zM309.4 321.07h1.2v1.5h-1.2zM314.95 321.07h1.2v1.5h-1.2zM320.5 321.07h1.2v1.5h-1.2zM326.05 321.07h1.2v1.5h-1.2zM331.6 321.07h1.2v1.5h-1.2zM337.15 321.07h1.2v1.5h-1.2zM342.7 321.07h1.2v1.5h-1.2zM348.25 321.07h1.2v1.5h-1.2zM148.45 315.83h1.2v1.5h-1.2zM154 315.83h1.2v1.5h-1.2zM159.55 315.83h1.2v1.5h-1.2zM165.1 315.83h1.2v1.5h-1.2zM170.65 315.83h1.2v1.5h-1.2zM176.2 315.83h1.2v1.5h-1.2zM181.75 315.83h1.2v1.5h-1.2zM187.3 315.83h1.2v1.5h-1.2zM192.85 315.83h1.2v1.5h-1.2zM198.4 315.83h1.2v1.5h-1.2zM203.95 315.83h1.2v1.5h-1.2zM209.5 315.83h1.2v1.5h-1.2zM215.05 315.83h1.2v1.5h-1.2zM220.6 315.83h1.2v1.5h-1.2zM226.15 315.83h1.2v1.5h-1.2zM231.7 315.83h1.2v1.5h-1.2zM237.25 315.83h1.2v1.5h-1.2zM242.8 315.83h1.2v1.5h-1.2zM248.35 315.83h1.2v1.5h-1.2zM253.9 315.83h1.2v1.5h-1.2zM259.45 315.83h1.2v1.5h-1.2zM265 315.83h1.2v1.5h-1.2zM270.55 315.83h1.2v1.5h-1.2zM276.1 315.83h1.2v1.5h-1.2zM281.65 315.83h1.2v1.5h-1.2zM287.2 315.83h1.2v1.5h-1.2zM292.75 315.83h1.2v1.5h-1.2zM298.3 315.83h1.2v1.5h-1.2zM303.85 315.83h1.2v1.5h-1.2zM309.4 315.83h1.2v1.5h-1.2zM314.95 315.83h1.2v1.5h-1.2zM320.5 315.83h1.2v1.5h-1.2zM326.05 315.83h1.2v1.5h-1.2zM331.6 315.83h1.2v1.5h-1.2zM337.15 315.83h1.2v1.5h-1.2zM342.7 315.83h1.2v1.5h-1.2zM348.25 315.83h1.2v1.5h-1.2zM148.45 310.59h1.2v1.5h-1.2zM154 310.59h1.2v1.5h-1.2zM159.55 310.59h1.2v1.5h-1.2zM165.1 310.59h1.2v1.5h-1.2zM170.65 310.59h1.2v1.5h-1.2zM176.2 310.59h1.2v1.5h-1.2zM181.75 310.59h1.2v1.5h-1.2zM187.3 310.59h1.2v1.5h-1.2zM192.85 310.59h1.2v1.5h-1.2zM198.4 310.59h1.2v1.5h-1.2zM203.95 310.59h1.2v1.5h-1.2zM209.5 310.59h1.2v1.5h-1.2zM215.05 310.59h1.2v1.5h-1.2zM220.6 310.59h1.2v1.5h-1.2zM226.15 310.59h1.2v1.5h-1.2zM231.7 310.59h1.2v1.5h-1.2zM237.25 310.59h1.2v1.5h-1.2zM242.8 310.59h1.2v1.5h-1.2zM248.35 310.59h1.2v1.5h-1.2zM253.9 310.59h1.2v1.5h-1.2zM259.45 310.59h1.2v1.5h-1.2zM265 310.59h1.2v1.5h-1.2zM270.55 310.59h1.2v1.5h-1.2zM276.1 310.59h1.2v1.5h-1.2zM281.65 310.59h1.2v1.5h-1.2zM287.2 310.59h1.2v1.5h-1.2zM292.75 310.59h1.2v1.5h-1.2zM298.3 310.59h1.2v1.5h-1.2zM303.85 310.59h1.2v1.5h-1.2zM309.4 310.59h1.2v1.5h-1.2zM314.95 310.59h1.2v1.5h-1.2zM320.5 310.59h1.2v1.5h-1.2zM326.05 310.59h1.2v1.5h-1.2zM331.6 310.59h1.2v1.5h-1.2zM337.15 310.59h1.2v1.5h-1.2zM342.7 310.59h1.2v1.5h-1.2zM348.25 310.59h1.2v1.5h-1.2zM148.45 300.11h1.2v1.5h-1.2zM154 300.11h1.2v1.5h-1.2zM159.55 300.11h1.2v1.5h-1.2zM165.1 300.11h1.2v1.5h-1.2zM170.65 300.11h1.2v1.5h-1.2zM176.2 300.11h1.2v1.5h-1.2zM181.75 300.11h1.2v1.5h-1.2zM187.3 300.11h1.2v1.5h-1.2zM192.85 300.11h1.2v1.5h-1.2zM198.4 300.11h1.2v1.5h-1.2zM203.95 300.11h1.2v1.5h-1.2zM209.5 300.11h1.2v1.5h-1.2zM215.05 300.11h1.2v1.5h-1.2zM220.6 300.11h1.2v1.5h-1.2zM226.15 300.11h1.2v1.5h-1.2zM231.7 300.11h1.2v1.5h-1.2zM237.25 300.11h1.2v1.5h-1.2zM242.8 300.11h1.2v1.5h-1.2zM248.35 300.11h1.2v1.5h-1.2zM253.9 300.11h1.2v1.5h-1.2zM259.45 300.11h1.2v1.5h-1.2zM265 300.11h1.2v1.5h-1.2zM270.55 300.11h1.2v1.5h-1.2zM276.1 300.11h1.2v1.5h-1.2zM281.65 300.11h1.2v1.5h-1.2zM287.2 300.11h1.2v1.5h-1.2zM292.75 300.11h1.2v1.5h-1.2zM298.3 300.11h1.2v1.5h-1.2zM303.85 300.11h1.2v1.5h-1.2zM309.4 300.11h1.2v1.5h-1.2zM314.95 300.11h1.2v1.5h-1.2zM320.5 300.11h1.2v1.5h-1.2zM326.05 300.11h1.2v1.5h-1.2zM331.6 300.11h1.2v1.5h-1.2zM337.15 300.11h1.2v1.5h-1.2zM342.7 300.11h1.2v1.5h-1.2zM348.25 300.11h1.2v1.5h-1.2z" fill="#adadad"/><path d="M147.3 332.3H355.5M147.3 306.1H355.5M188.94 299.2V359.2M230.58 299.2V359.2M272.22 299.2V359.2M313.86 299.2V359.2" stroke="#dcdcdc" stroke-width="1.6" fill="none"/><path d="M147.3 358.5h3.2M355.5 358.5h-3.2M147.3 332.3h3.2M355.5 332.3h-3.2M147.3 306.1h3.2M355.5 306.1h-3.2M188.94 359.2v-3.2M188.94 299.2v3.2M230.58 359.2v-3.2M230.58 299.2v3.2M272.22 359.2v-3.2M272.22 299.2v3.2M313.86 359.2v-3.2M313.86 299.2v3.2" stroke="#262626" stroke-width="1.9" fill="none"/><rect x="147.3" y="299.2" width="208.2" height="60" fill="none" stroke="#262626" stroke-width="2.3"/><path d="M178.5 299.53a4.15 4.15 0 1 0 0.01 0zM180.21 300.81a4.15 4.15 0 1 0 0.01 0zM181.91 301.78a4.15 4.15 0 1 0 0.01 0zM183.62 302.5a4.15 4.15 0 1 0 0.01 0zM185.33 302.1a4.15 4.15 0 1 0 0.01 0zM187.04 296.72a4.15 4.15 0 1 0 0.01 0zM188.74 299.74a4.15 4.15 0 1 0 0.01 0zM190.45 300.11a4.15 4.15 0 1 0 0.01 0zM192.16 297.29a4.15 4.15 0 1 0 0.01 0zM193.87 300.91a4.15 4.15 0 1 0 0.01 0zM195.57 301.5a4.15 4.15 0 1 0 0.01 0zM197.28 303.2a4.15 4.15 0 1 0 0.01 0zM198.99 304.13a4.15 4.15 0 1 0 0.01 0zM200.7 298.39a4.15 4.15 0 1 0 0.01 0zM202.4 299.24a4.15 4.15 0 1 0 0.01 0zM204.11 302.44a4.15 4.15 0 1 0 0.01 0zM205.82 298.74a4.15 4.15 0 1 0 0.01 0zM207.53 299.49a4.15 4.15 0 1 0 0.01 0zM209.23 302.1a4.15 4.15 0 1 0 0.01 0zM210.94 299.27a4.15 4.15 0 1 0 0.01 0zM212.65 303.76a4.15 4.15 0 1 0 0.01 0zM214.36 304.39a4.15 4.15 0 1 0 0.01 0zM216.06 298.55a4.15 4.15 0 1 0 0.01 0zM217.77 302.23a4.15 4.15 0 1 0 0.01 0zM219.48 304.22a4.15 4.15 0 1 0 0.01 0zM221.19 305.59a4.15 4.15 0 1 0 0.01 0zM222.89 300.64a4.15 4.15 0 1 0 0.01 0zM224.6 299.97a4.15 4.15 0 1 0 0.01 0zM194.2 294.25a4.15 4.15 0 1 0 0.01 0zM200.9 294.25a4.15 4.15 0 1 0 0.01 0zM196.7 307.15a4.15 4.15 0 1 0 0.01 0zM203.4 306.75a4.15 4.15 0 1 0 0.01 0zM209.3 308.45a4.15 4.15 0 1 0 0.01 0zM215.1 308.45a4.15 4.15 0 1 0 0.01 0zM220 304.85a4.15 4.15 0 1 0 0.01 0zM225.1 304.95a4.15 4.15 0 1 0 0.01 0zM226.7 332.75a4.15 4.15 0 1 0 0.01 0zM229.3 334.85a4.15 4.15 0 1 0 0.01 0zM231.3 338.95a4.15 4.15 0 1 0 0.01 0zM232.9 344.05a4.15 4.15 0 1 0 0.01 0zM235.4 348.15a4.15 4.15 0 1 0 0.01 0zM235.4 352.25a4.15 4.15 0 1 0 0.01 0zM237.5 350.85a4.15 4.15 0 1 0 0.01 0zM240.6 348.15a4.15 4.15 0 1 0 0.01 0zM243.1 339.95a4.15 4.15 0 1 0 0.01 0zM243.7 330.65a4.15 4.15 0 1 0 0.01 0zM245.2 325.55a4.15 4.15 0 1 0 0.01 0zM246.7 320.35a4.15 4.15 0 1 0 0.01 0zM248.3 315.25a4.15 4.15 0 1 0 0.01 0zM250.9 310.15a4.15 4.15 0 1 0 0.01 0zM252.9 314.25a4.15 4.15 0 1 0 0.01 0zM255.5 318.35a4.15 4.15 0 1 0 0.01 0zM258.1 322.45a4.15 4.15 0 1 0 0.01 0zM259.6 331.75a4.15 4.15 0 1 0 0.01 0zM262.2 336.85a4.15 4.15 0 1 0 0.01 0zM264.2 338.95a4.15 4.15 0 1 0 0.01 0zM266.5 335.85a4.15 4.15 0 1 0 0.01 0zM269.4 324.55a4.15 4.15 0 1 0 0.01 0zM271.4 329.65a4.15 4.15 0 1 0 0.01 0zM268.4 333.75a4.15 4.15 0 1 0 0.01 0zM272.3 326.25a4.15 4.15 0 1 0 0.01 0zM274.5 336.85a4.15 4.15 0 1 0 0.01 0zM276.8 334.15a4.15 4.15 0 1 0 0.01 0zM277.6 340.95a4.15 4.15 0 1 0 0.01 0zM279.5 339.85a4.15 4.15 0 1 0 0.01 0zM281.3 342.05a4.15 4.15 0 1 0 0.01 0zM283.5 336.85a4.15 4.15 0 1 0 0.01 0zM285.8 332.95a4.15 4.15 0 1 0 0.01 0zM288 330.35a4.15 4.15 0 1 0 0.01 0zM290.4 329.65a4.15 4.15 0 1 0 0.01 0zM292.5 330.35a4.15 4.15 0 1 0 0.01 0zM294.9 331.85a4.15 4.15 0 1 0 0.01 0zM297 334.85a4.15 4.15 0 1 0 0.01 0zM299.4 337.55a4.15 4.15 0 1 0 0.01 0zM302.8 339.75a4.15 4.15 0 1 0 0.01 0zM304.5 335.85a4.15 4.15 0 1 0 0.01 0zM306.2 331.85a4.15 4.15 0 1 0 0.01 0zM309 326.75a4.15 4.15 0 1 0 0.01 0zM310.7 329.65a4.15 4.15 0 1 0 0.01 0zM311.5 335.85a4.15 4.15 0 1 0 0.01 0zM312.4 343.15a4.15 4.15 0 1 0 0.01 0zM314.1 351.05a4.15 4.15 0 1 0 0.01 0zM316.4 350.35a4.15 4.15 0 1 0 0.01 0zM318.6 349.95a4.15 4.15 0 1 0 0.01 0zM321 348.35a4.15 4.15 0 1 0 0.01 0zM323.2 346.55a4.15 4.15 0 1 0 0.01 0zM326 343.85a4.15 4.15 0 1 0 0.01 0zM328.8 340.95a4.15 4.15 0 1 0 0.01 0zM331.5 338.65a4.15 4.15 0 1 0 0.01 0zM334.5 336.35a4.15 4.15 0 1 0 0.01 0zM336.8 337.35a4.15 4.15 0 1 0 0.01 0zM339 338.65a4.15 4.15 0 1 0 0.01 0zM341.2 341.35a4.15 4.15 0 1 0 0.01 0zM343.5 344.35a4.15 4.15 0 1 0 0.01 0zM345.2 348.85a4.15 4.15 0 1 0 0.01 0z" fill="none" stroke="#0072bd" stroke-width="2.2"/><text x="138.7" y="366.1" font-size="19.8" text-anchor="end" fill="#262626">0</text><text x="138.7" y="339.9" font-size="19.8" text-anchor="end" fill="#262626">1000</text><text x="138.7" y="313.7" font-size="19.8" text-anchor="end" fill="#262626">2000</text></g><g><path d="M491.65 357.11h1.2v1.5h-1.2zM497.2 357.11h1.2v1.5h-1.2zM502.75 357.11h1.2v1.5h-1.2zM508.3 357.11h1.2v1.5h-1.2zM513.85 357.11h1.2v1.5h-1.2zM519.4 357.11h1.2v1.5h-1.2zM524.95 357.11h1.2v1.5h-1.2zM530.5 357.11h1.2v1.5h-1.2zM536.05 357.11h1.2v1.5h-1.2zM541.6 357.11h1.2v1.5h-1.2zM547.15 357.11h1.2v1.5h-1.2zM552.7 357.11h1.2v1.5h-1.2zM558.25 357.11h1.2v1.5h-1.2zM563.8 357.11h1.2v1.5h-1.2zM569.35 357.11h1.2v1.5h-1.2zM574.9 357.11h1.2v1.5h-1.2zM580.45 357.11h1.2v1.5h-1.2zM586 357.11h1.2v1.5h-1.2zM591.55 357.11h1.2v1.5h-1.2zM597.1 357.11h1.2v1.5h-1.2zM602.65 357.11h1.2v1.5h-1.2zM608.2 357.11h1.2v1.5h-1.2zM613.75 357.11h1.2v1.5h-1.2zM619.3 357.11h1.2v1.5h-1.2zM624.85 357.11h1.2v1.5h-1.2zM630.4 357.11h1.2v1.5h-1.2zM635.95 357.11h1.2v1.5h-1.2zM641.5 357.11h1.2v1.5h-1.2zM647.05 357.11h1.2v1.5h-1.2zM652.6 357.11h1.2v1.5h-1.2zM658.15 357.11h1.2v1.5h-1.2zM663.7 357.11h1.2v1.5h-1.2zM669.25 357.11h1.2v1.5h-1.2zM674.8 357.11h1.2v1.5h-1.2zM680.35 357.11h1.2v1.5h-1.2zM685.9 357.11h1.2v1.5h-1.2zM691.45 357.11h1.2v1.5h-1.2zM491.65 352.59h1.2v1.5h-1.2zM497.2 352.59h1.2v1.5h-1.2zM502.75 352.59h1.2v1.5h-1.2zM508.3 352.59h1.2v1.5h-1.2zM513.85 352.59h1.2v1.5h-1.2zM519.4 352.59h1.2v1.5h-1.2zM524.95 352.59h1.2v1.5h-1.2zM530.5 352.59h1.2v1.5h-1.2zM536.05 352.59h1.2v1.5h-1.2zM541.6 352.59h1.2v1.5h-1.2zM547.15 352.59h1.2v1.5h-1.2zM552.7 352.59h1.2v1.5h-1.2zM558.25 352.59h1.2v1.5h-1.2zM563.8 352.59h1.2v1.5h-1.2zM569.35 352.59h1.2v1.5h-1.2zM574.9 352.59h1.2v1.5h-1.2zM580.45 352.59h1.2v1.5h-1.2zM586 352.59h1.2v1.5h-1.2zM591.55 352.59h1.2v1.5h-1.2zM597.1 352.59h1.2v1.5h-1.2zM602.65 352.59h1.2v1.5h-1.2zM608.2 352.59h1.2v1.5h-1.2zM613.75 352.59h1.2v1.5h-1.2zM619.3 352.59h1.2v1.5h-1.2zM624.85 352.59h1.2v1.5h-1.2zM630.4 352.59h1.2v1.5h-1.2zM635.95 352.59h1.2v1.5h-1.2zM641.5 352.59h1.2v1.5h-1.2zM647.05 352.59h1.2v1.5h-1.2zM652.6 352.59h1.2v1.5h-1.2zM658.15 352.59h1.2v1.5h-1.2zM663.7 352.59h1.2v1.5h-1.2zM669.25 352.59h1.2v1.5h-1.2zM674.8 352.59h1.2v1.5h-1.2zM680.35 352.59h1.2v1.5h-1.2zM685.9 352.59h1.2v1.5h-1.2zM691.45 352.59h1.2v1.5h-1.2zM491.65 348.07h1.2v1.5h-1.2zM497.2 348.07h1.2v1.5h-1.2zM502.75 348.07h1.2v1.5h-1.2zM508.3 348.07h1.2v1.5h-1.2zM513.85 348.07h1.2v1.5h-1.2zM519.4 348.07h1.2v1.5h-1.2zM524.95 348.07h1.2v1.5h-1.2zM530.5 348.07h1.2v1.5h-1.2zM536.05 348.07h1.2v1.5h-1.2zM541.6 348.07h1.2v1.5h-1.2zM547.15 348.07h1.2v1.5h-1.2zM552.7 348.07h1.2v1.5h-1.2zM558.25 348.07h1.2v1.5h-1.2zM563.8 348.07h1.2v1.5h-1.2zM569.35 348.07h1.2v1.5h-1.2zM574.9 348.07h1.2v1.5h-1.2zM580.45 348.07h1.2v1.5h-1.2zM586 348.07h1.2v1.5h-1.2zM591.55 348.07h1.2v1.5h-1.2zM597.1 348.07h1.2v1.5h-1.2zM602.65 348.07h1.2v1.5h-1.2zM608.2 348.07h1.2v1.5h-1.2zM613.75 348.07h1.2v1.5h-1.2zM619.3 348.07h1.2v1.5h-1.2zM624.85 348.07h1.2v1.5h-1.2zM630.4 348.07h1.2v1.5h-1.2zM635.95 348.07h1.2v1.5h-1.2zM641.5 348.07h1.2v1.5h-1.2zM647.05 348.07h1.2v1.5h-1.2zM652.6 348.07h1.2v1.5h-1.2zM658.15 348.07h1.2v1.5h-1.2zM663.7 348.07h1.2v1.5h-1.2zM669.25 348.07h1.2v1.5h-1.2zM674.8 348.07h1.2v1.5h-1.2zM680.35 348.07h1.2v1.5h-1.2zM685.9 348.07h1.2v1.5h-1.2zM691.45 348.07h1.2v1.5h-1.2zM491.65 339.03h1.2v1.5h-1.2zM497.2 339.03h1.2v1.5h-1.2zM502.75 339.03h1.2v1.5h-1.2zM508.3 339.03h1.2v1.5h-1.2zM513.85 339.03h1.2v1.5h-1.2zM519.4 339.03h1.2v1.5h-1.2zM524.95 339.03h1.2v1.5h-1.2zM530.5 339.03h1.2v1.5h-1.2zM536.05 339.03h1.2v1.5h-1.2zM541.6 339.03h1.2v1.5h-1.2zM547.15 339.03h1.2v1.5h-1.2zM552.7 339.03h1.2v1.5h-1.2zM558.25 339.03h1.2v1.5h-1.2zM563.8 339.03h1.2v1.5h-1.2zM569.35 339.03h1.2v1.5h-1.2zM574.9 339.03h1.2v1.5h-1.2zM580.45 339.03h1.2v1.5h-1.2zM586 339.03h1.2v1.5h-1.2zM591.55 339.03h1.2v1.5h-1.2zM597.1 339.03h1.2v1.5h-1.2zM602.65 339.03h1.2v1.5h-1.2zM608.2 339.03h1.2v1.5h-1.2zM613.75 339.03h1.2v1.5h-1.2zM619.3 339.03h1.2v1.5h-1.2zM624.85 339.03h1.2v1.5h-1.2zM630.4 339.03h1.2v1.5h-1.2zM635.95 339.03h1.2v1.5h-1.2zM641.5 339.03h1.2v1.5h-1.2zM647.05 339.03h1.2v1.5h-1.2zM652.6 339.03h1.2v1.5h-1.2zM658.15 339.03h1.2v1.5h-1.2zM663.7 339.03h1.2v1.5h-1.2zM669.25 339.03h1.2v1.5h-1.2zM674.8 339.03h1.2v1.5h-1.2zM680.35 339.03h1.2v1.5h-1.2zM685.9 339.03h1.2v1.5h-1.2zM691.45 339.03h1.2v1.5h-1.2zM491.65 334.51h1.2v1.5h-1.2zM497.2 334.51h1.2v1.5h-1.2zM502.75 334.51h1.2v1.5h-1.2zM508.3 334.51h1.2v1.5h-1.2zM513.85 334.51h1.2v1.5h-1.2zM519.4 334.51h1.2v1.5h-1.2zM524.95 334.51h1.2v1.5h-1.2zM530.5 334.51h1.2v1.5h-1.2zM536.05 334.51h1.2v1.5h-1.2zM541.6 334.51h1.2v1.5h-1.2zM547.15 334.51h1.2v1.5h-1.2zM552.7 334.51h1.2v1.5h-1.2zM558.25 334.51h1.2v1.5h-1.2zM563.8 334.51h1.2v1.5h-1.2zM569.35 334.51h1.2v1.5h-1.2zM574.9 334.51h1.2v1.5h-1.2zM580.45 334.51h1.2v1.5h-1.2zM586 334.51h1.2v1.5h-1.2zM591.55 334.51h1.2v1.5h-1.2zM597.1 334.51h1.2v1.5h-1.2zM602.65 334.51h1.2v1.5h-1.2zM608.2 334.51h1.2v1.5h-1.2zM613.75 334.51h1.2v1.5h-1.2zM619.3 334.51h1.2v1.5h-1.2zM624.85 334.51h1.2v1.5h-1.2zM630.4 334.51h1.2v1.5h-1.2zM635.95 334.51h1.2v1.5h-1.2zM641.5 334.51h1.2v1.5h-1.2zM647.05 334.51h1.2v1.5h-1.2zM652.6 334.51h1.2v1.5h-1.2zM658.15 334.51h1.2v1.5h-1.2zM663.7 334.51h1.2v1.5h-1.2zM669.25 334.51h1.2v1.5h-1.2zM674.8 334.51h1.2v1.5h-1.2zM680.35 334.51h1.2v1.5h-1.2zM685.9 334.51h1.2v1.5h-1.2zM691.45 334.51h1.2v1.5h-1.2zM491.65 329.99h1.2v1.5h-1.2zM497.2 329.99h1.2v1.5h-1.2zM502.75 329.99h1.2v1.5h-1.2zM508.3 329.99h1.2v1.5h-1.2zM513.85 329.99h1.2v1.5h-1.2zM519.4 329.99h1.2v1.5h-1.2zM524.95 329.99h1.2v1.5h-1.2zM530.5 329.99h1.2v1.5h-1.2zM536.05 329.99h1.2v1.5h-1.2zM541.6 329.99h1.2v1.5h-1.2zM547.15 329.99h1.2v1.5h-1.2zM552.7 329.99h1.2v1.5h-1.2zM558.25 329.99h1.2v1.5h-1.2zM563.8 329.99h1.2v1.5h-1.2zM569.35 329.99h1.2v1.5h-1.2zM574.9 329.99h1.2v1.5h-1.2zM580.45 329.99h1.2v1.5h-1.2zM586 329.99h1.2v1.5h-1.2zM591.55 329.99h1.2v1.5h-1.2zM597.1 329.99h1.2v1.5h-1.2zM602.65 329.99h1.2v1.5h-1.2zM608.2 329.99h1.2v1.5h-1.2zM613.75 329.99h1.2v1.5h-1.2zM619.3 329.99h1.2v1.5h-1.2zM624.85 329.99h1.2v1.5h-1.2zM630.4 329.99h1.2v1.5h-1.2zM635.95 329.99h1.2v1.5h-1.2zM641.5 329.99h1.2v1.5h-1.2zM647.05 329.99h1.2v1.5h-1.2zM652.6 329.99h1.2v1.5h-1.2zM658.15 329.99h1.2v1.5h-1.2zM663.7 329.99h1.2v1.5h-1.2zM669.25 329.99h1.2v1.5h-1.2zM674.8 329.99h1.2v1.5h-1.2zM680.35 329.99h1.2v1.5h-1.2zM685.9 329.99h1.2v1.5h-1.2zM691.45 329.99h1.2v1.5h-1.2zM491.65 325.47h1.2v1.5h-1.2zM497.2 325.47h1.2v1.5h-1.2zM502.75 325.47h1.2v1.5h-1.2zM508.3 325.47h1.2v1.5h-1.2zM513.85 325.47h1.2v1.5h-1.2zM519.4 325.47h1.2v1.5h-1.2zM524.95 325.47h1.2v1.5h-1.2zM530.5 325.47h1.2v1.5h-1.2zM536.05 325.47h1.2v1.5h-1.2zM541.6 325.47h1.2v1.5h-1.2zM547.15 325.47h1.2v1.5h-1.2zM552.7 325.47h1.2v1.5h-1.2zM558.25 325.47h1.2v1.5h-1.2zM563.8 325.47h1.2v1.5h-1.2zM569.35 325.47h1.2v1.5h-1.2zM574.9 325.47h1.2v1.5h-1.2zM580.45 325.47h1.2v1.5h-1.2zM586 325.47h1.2v1.5h-1.2zM591.55 325.47h1.2v1.5h-1.2zM597.1 325.47h1.2v1.5h-1.2zM602.65 325.47h1.2v1.5h-1.2zM608.2 325.47h1.2v1.5h-1.2zM613.75 325.47h1.2v1.5h-1.2zM619.3 325.47h1.2v1.5h-1.2zM624.85 325.47h1.2v1.5h-1.2zM630.4 325.47h1.2v1.5h-1.2zM635.95 325.47h1.2v1.5h-1.2zM641.5 325.47h1.2v1.5h-1.2zM647.05 325.47h1.2v1.5h-1.2zM652.6 325.47h1.2v1.5h-1.2zM658.15 325.47h1.2v1.5h-1.2zM663.7 325.47h1.2v1.5h-1.2zM669.25 325.47h1.2v1.5h-1.2zM674.8 325.47h1.2v1.5h-1.2zM680.35 325.47h1.2v1.5h-1.2zM685.9 325.47h1.2v1.5h-1.2zM691.45 325.47h1.2v1.5h-1.2zM491.65 316.43h1.2v1.5h-1.2zM497.2 316.43h1.2v1.5h-1.2zM502.75 316.43h1.2v1.5h-1.2zM508.3 316.43h1.2v1.5h-1.2zM513.85 316.43h1.2v1.5h-1.2zM519.4 316.43h1.2v1.5h-1.2zM524.95 316.43h1.2v1.5h-1.2zM530.5 316.43h1.2v1.5h-1.2zM536.05 316.43h1.2v1.5h-1.2zM541.6 316.43h1.2v1.5h-1.2zM547.15 316.43h1.2v1.5h-1.2zM552.7 316.43h1.2v1.5h-1.2zM558.25 316.43h1.2v1.5h-1.2zM563.8 316.43h1.2v1.5h-1.2zM569.35 316.43h1.2v1.5h-1.2zM574.9 316.43h1.2v1.5h-1.2zM580.45 316.43h1.2v1.5h-1.2zM586 316.43h1.2v1.5h-1.2zM591.55 316.43h1.2v1.5h-1.2zM597.1 316.43h1.2v1.5h-1.2zM602.65 316.43h1.2v1.5h-1.2zM608.2 316.43h1.2v1.5h-1.2zM613.75 316.43h1.2v1.5h-1.2zM619.3 316.43h1.2v1.5h-1.2zM624.85 316.43h1.2v1.5h-1.2zM630.4 316.43h1.2v1.5h-1.2zM635.95 316.43h1.2v1.5h-1.2zM641.5 316.43h1.2v1.5h-1.2zM647.05 316.43h1.2v1.5h-1.2zM652.6 316.43h1.2v1.5h-1.2zM658.15 316.43h1.2v1.5h-1.2zM663.7 316.43h1.2v1.5h-1.2zM669.25 316.43h1.2v1.5h-1.2zM674.8 316.43h1.2v1.5h-1.2zM680.35 316.43h1.2v1.5h-1.2zM685.9 316.43h1.2v1.5h-1.2zM691.45 316.43h1.2v1.5h-1.2zM491.65 311.91h1.2v1.5h-1.2zM497.2 311.91h1.2v1.5h-1.2zM502.75 311.91h1.2v1.5h-1.2zM508.3 311.91h1.2v1.5h-1.2zM513.85 311.91h1.2v1.5h-1.2zM519.4 311.91h1.2v1.5h-1.2zM524.95 311.91h1.2v1.5h-1.2zM530.5 311.91h1.2v1.5h-1.2zM536.05 311.91h1.2v1.5h-1.2zM541.6 311.91h1.2v1.5h-1.2zM547.15 311.91h1.2v1.5h-1.2zM552.7 311.91h1.2v1.5h-1.2zM558.25 311.91h1.2v1.5h-1.2zM563.8 311.91h1.2v1.5h-1.2zM569.35 311.91h1.2v1.5h-1.2zM574.9 311.91h1.2v1.5h-1.2zM580.45 311.91h1.2v1.5h-1.2zM586 311.91h1.2v1.5h-1.2zM591.55 311.91h1.2v1.5h-1.2zM597.1 311.91h1.2v1.5h-1.2zM602.65 311.91h1.2v1.5h-1.2zM608.2 311.91h1.2v1.5h-1.2zM613.75 311.91h1.2v1.5h-1.2zM619.3 311.91h1.2v1.5h-1.2zM624.85 311.91h1.2v1.5h-1.2zM630.4 311.91h1.2v1.5h-1.2zM635.95 311.91h1.2v1.5h-1.2zM641.5 311.91h1.2v1.5h-1.2zM647.05 311.91h1.2v1.5h-1.2zM652.6 311.91h1.2v1.5h-1.2zM658.15 311.91h1.2v1.5h-1.2zM663.7 311.91h1.2v1.5h-1.2zM669.25 311.91h1.2v1.5h-1.2zM674.8 311.91h1.2v1.5h-1.2zM680.35 311.91h1.2v1.5h-1.2zM685.9 311.91h1.2v1.5h-1.2zM691.45 311.91h1.2v1.5h-1.2zM491.65 307.39h1.2v1.5h-1.2zM497.2 307.39h1.2v1.5h-1.2zM502.75 307.39h1.2v1.5h-1.2zM508.3 307.39h1.2v1.5h-1.2zM513.85 307.39h1.2v1.5h-1.2zM519.4 307.39h1.2v1.5h-1.2zM524.95 307.39h1.2v1.5h-1.2zM530.5 307.39h1.2v1.5h-1.2zM536.05 307.39h1.2v1.5h-1.2zM541.6 307.39h1.2v1.5h-1.2zM547.15 307.39h1.2v1.5h-1.2zM552.7 307.39h1.2v1.5h-1.2zM558.25 307.39h1.2v1.5h-1.2zM563.8 307.39h1.2v1.5h-1.2zM569.35 307.39h1.2v1.5h-1.2zM574.9 307.39h1.2v1.5h-1.2zM580.45 307.39h1.2v1.5h-1.2zM586 307.39h1.2v1.5h-1.2zM591.55 307.39h1.2v1.5h-1.2zM597.1 307.39h1.2v1.5h-1.2zM602.65 307.39h1.2v1.5h-1.2zM608.2 307.39h1.2v1.5h-1.2zM613.75 307.39h1.2v1.5h-1.2zM619.3 307.39h1.2v1.5h-1.2zM624.85 307.39h1.2v1.5h-1.2zM630.4 307.39h1.2v1.5h-1.2zM635.95 307.39h1.2v1.5h-1.2zM641.5 307.39h1.2v1.5h-1.2zM647.05 307.39h1.2v1.5h-1.2zM652.6 307.39h1.2v1.5h-1.2zM658.15 307.39h1.2v1.5h-1.2zM663.7 307.39h1.2v1.5h-1.2zM669.25 307.39h1.2v1.5h-1.2zM674.8 307.39h1.2v1.5h-1.2zM680.35 307.39h1.2v1.5h-1.2zM685.9 307.39h1.2v1.5h-1.2zM691.45 307.39h1.2v1.5h-1.2zM491.65 302.87h1.2v1.5h-1.2zM497.2 302.87h1.2v1.5h-1.2zM502.75 302.87h1.2v1.5h-1.2zM508.3 302.87h1.2v1.5h-1.2zM513.85 302.87h1.2v1.5h-1.2zM519.4 302.87h1.2v1.5h-1.2zM524.95 302.87h1.2v1.5h-1.2zM530.5 302.87h1.2v1.5h-1.2zM536.05 302.87h1.2v1.5h-1.2zM541.6 302.87h1.2v1.5h-1.2zM547.15 302.87h1.2v1.5h-1.2zM552.7 302.87h1.2v1.5h-1.2zM558.25 302.87h1.2v1.5h-1.2zM563.8 302.87h1.2v1.5h-1.2zM569.35 302.87h1.2v1.5h-1.2zM574.9 302.87h1.2v1.5h-1.2zM580.45 302.87h1.2v1.5h-1.2zM586 302.87h1.2v1.5h-1.2zM591.55 302.87h1.2v1.5h-1.2zM597.1 302.87h1.2v1.5h-1.2zM602.65 302.87h1.2v1.5h-1.2zM608.2 302.87h1.2v1.5h-1.2zM613.75 302.87h1.2v1.5h-1.2zM619.3 302.87h1.2v1.5h-1.2zM624.85 302.87h1.2v1.5h-1.2zM630.4 302.87h1.2v1.5h-1.2zM635.95 302.87h1.2v1.5h-1.2zM641.5 302.87h1.2v1.5h-1.2zM647.05 302.87h1.2v1.5h-1.2zM652.6 302.87h1.2v1.5h-1.2zM658.15 302.87h1.2v1.5h-1.2zM663.7 302.87h1.2v1.5h-1.2zM669.25 302.87h1.2v1.5h-1.2zM674.8 302.87h1.2v1.5h-1.2zM680.35 302.87h1.2v1.5h-1.2zM685.9 302.87h1.2v1.5h-1.2zM691.45 302.87h1.2v1.5h-1.2z" fill="#adadad"/><path d="M490.5 344.3H698.7M490.5 321.7H698.7M532.14 299.2V359.2M573.78 299.2V359.2M615.42 299.2V359.2M657.06 299.2V359.2" stroke="#dcdcdc" stroke-width="1.6" fill="none"/><path d="M490.5 344.3h3.2M698.7 344.3h-3.2M490.5 321.7h3.2M698.7 321.7h-3.2M490.5 299.1h3.2M698.7 299.1h-3.2M532.14 359.2v-3.2M532.14 299.2v3.2M573.78 359.2v-3.2M573.78 299.2v3.2M615.42 359.2v-3.2M615.42 299.2v3.2M657.06 359.2v-3.2M657.06 299.2v3.2" stroke="#262626" stroke-width="1.9" fill="none"/><rect x="490.5" y="299.2" width="208.2" height="60" fill="none" stroke="#262626" stroke-width="2.3"/><path d="M521.8 356.62a4.15 4.15 0 1 0 0.01 0zM523.54 354.33a4.15 4.15 0 1 0 0.01 0zM525.28 344.61a4.15 4.15 0 1 0 0.01 0zM527.02 344.44a4.15 4.15 0 1 0 0.01 0zM528.75 344.96a4.15 4.15 0 1 0 0.01 0zM530.49 344.05a4.15 4.15 0 1 0 0.01 0zM532.23 335.12a4.15 4.15 0 1 0 0.01 0zM533.97 338.57a4.15 4.15 0 1 0 0.01 0zM535.71 339.12a4.15 4.15 0 1 0 0.01 0zM537.45 335.67a4.15 4.15 0 1 0 0.01 0zM539.18 330.59a4.15 4.15 0 1 0 0.01 0zM540.92 327.14a4.15 4.15 0 1 0 0.01 0zM542.66 327.43a4.15 4.15 0 1 0 0.01 0zM544.4 330.53a4.15 4.15 0 1 0 0.01 0zM546.14 321.16a4.15 4.15 0 1 0 0.01 0zM547.88 319.06a4.15 4.15 0 1 0 0.01 0zM549.62 320.85a4.15 4.15 0 1 0 0.01 0zM551.35 316.13a4.15 4.15 0 1 0 0.01 0zM553.09 315.25a4.15 4.15 0 1 0 0.01 0zM554.83 312.25a4.15 4.15 0 1 0 0.01 0zM556.57 315.53a4.15 4.15 0 1 0 0.01 0zM558.31 315.51a4.15 4.15 0 1 0 0.01 0zM560.05 311.07a4.15 4.15 0 1 0 0.01 0zM561.78 306.41a4.15 4.15 0 1 0 0.01 0zM563.52 306.64a4.15 4.15 0 1 0 0.01 0zM565.26 307.49a4.15 4.15 0 1 0 0.01 0zM567 309.26a4.15 4.15 0 1 0 0.01 0zM568.7 307.66a4.15 4.15 0 1 0 0.01 0zM570.44 305.51a4.15 4.15 0 1 0 0.01 0zM572.18 305.43a4.15 4.15 0 1 0 0.01 0zM573.91 310.51a4.15 4.15 0 1 0 0.01 0zM575.65 313.1a4.15 4.15 0 1 0 0.01 0zM577.39 313.43a4.15 4.15 0 1 0 0.01 0zM579.13 316.86a4.15 4.15 0 1 0 0.01 0zM580.86 319.41a4.15 4.15 0 1 0 0.01 0zM582.6 320.55a4.15 4.15 0 1 0 0.01 0zM584.34 323.68a4.15 4.15 0 1 0 0.01 0zM586.08 322.02a4.15 4.15 0 1 0 0.01 0zM587.81 324.75a4.15 4.15 0 1 0 0.01 0zM589.55 326.51a4.15 4.15 0 1 0 0.01 0zM591.29 326.49a4.15 4.15 0 1 0 0.01 0zM593.03 330.22a4.15 4.15 0 1 0 0.01 0zM594.77 327.27a4.15 4.15 0 1 0 0.01 0zM596.5 330.41a4.15 4.15 0 1 0 0.01 0zM598.24 328.51a4.15 4.15 0 1 0 0.01 0zM599.98 329.38a4.15 4.15 0 1 0 0.01 0zM601.72 329.33a4.15 4.15 0 1 0 0.01 0zM603.45 328.09a4.15 4.15 0 1 0 0.01 0zM605.19 329.17a4.15 4.15 0 1 0 0.01 0zM606.93 329.1a4.15 4.15 0 1 0 0.01 0zM608.67 328.8a4.15 4.15 0 1 0 0.01 0zM610.4 331.05a4.15 4.15 0 1 0 0.01 0zM612.14 329.32a4.15 4.15 0 1 0 0.01 0zM613.88 330.02a4.15 4.15 0 1 0 0.01 0zM615.62 330.98a4.15 4.15 0 1 0 0.01 0zM617.36 330.79a4.15 4.15 0 1 0 0.01 0zM619.09 329.82a4.15 4.15 0 1 0 0.01 0zM620.83 332.38a4.15 4.15 0 1 0 0.01 0zM622.57 331.73a4.15 4.15 0 1 0 0.01 0zM624.31 327.98a4.15 4.15 0 1 0 0.01 0zM626.04 327.31a4.15 4.15 0 1 0 0.01 0zM627.78 325.05a4.15 4.15 0 1 0 0.01 0zM629.52 324.21a4.15 4.15 0 1 0 0.01 0zM631.26 321.79a4.15 4.15 0 1 0 0.01 0zM632.99 321.1a4.15 4.15 0 1 0 0.01 0zM634.73 321.32a4.15 4.15 0 1 0 0.01 0zM636.47 317.69a4.15 4.15 0 1 0 0.01 0zM638.21 317.29a4.15 4.15 0 1 0 0.01 0zM639.94 315.6a4.15 4.15 0 1 0 0.01 0zM641.68 314.77a4.15 4.15 0 1 0 0.01 0zM643.42 310.56a4.15 4.15 0 1 0 0.01 0zM645.16 311.84a4.15 4.15 0 1 0 0.01 0zM646.9 311.19a4.15 4.15 0 1 0 0.01 0zM648.63 308.37a4.15 4.15 0 1 0 0.01 0zM650.37 307.81a4.15 4.15 0 1 0 0.01 0zM652.11 310.63a4.15 4.15 0 1 0 0.01 0zM653.85 312.07a4.15 4.15 0 1 0 0.01 0zM655.58 313.15a4.15 4.15 0 1 0 0.01 0zM657.32 312.45a4.15 4.15 0 1 0 0.01 0zM659.06 317.09a4.15 4.15 0 1 0 0.01 0zM660.8 316.99a4.15 4.15 0 1 0 0.01 0zM662.53 311.42a4.15 4.15 0 1 0 0.01 0zM664.27 308.65a4.15 4.15 0 1 0 0.01 0zM666.01 302.99a4.15 4.15 0 1 0 0.01 0zM667.75 304.15a4.15 4.15 0 1 0 0.01 0zM669.49 300.83a4.15 4.15 0 1 0 0.01 0zM671.22 297.47a4.15 4.15 0 1 0 0.01 0zM672.96 296.95a4.15 4.15 0 1 0 0.01 0zM674.7 294.08a4.15 4.15 0 1 0 0.01 0zM676.44 293.99a4.15 4.15 0 1 0 0.01 0zM678.17 293.17a4.15 4.15 0 1 0 0.01 0zM679.91 294a4.15 4.15 0 1 0 0.01 0zM681.65 293.06a4.15 4.15 0 1 0 0.01 0zM683.39 297.55a4.15 4.15 0 1 0 0.01 0zM685.12 297.1a4.15 4.15 0 1 0 0.01 0zM686.86 299.12a4.15 4.15 0 1 0 0.01 0zM688.6 300.37a4.15 4.15 0 1 0 0.01 0zM521.7 353.85a4.15 4.15 0 1 0 0.01 0zM540.6 325.95a4.15 4.15 0 1 0 0.01 0zM552.9 305.85a4.15 4.15 0 1 0 0.01 0zM537.3 342.65a4.15 4.15 0 1 0 0.01 0zM592.4 338.85a4.15 4.15 0 1 0 0.01 0zM594.8 342.45a4.15 4.15 0 1 0 0.01 0zM612.8 337.65a4.15 4.15 0 1 0 0.01 0zM621.2 338.85a4.15 4.15 0 1 0 0.01 0zM657.2 321.45a4.15 4.15 0 1 0 0.01 0zM663.8 310.65a4.15 4.15 0 1 0 0.01 0zM560 317.25a4.15 4.15 0 1 0 0.01 0zM563.6 314.85a4.15 4.15 0 1 0 0.01 0zM573.2 317.25a4.15 4.15 0 1 0 0.01 0zM579.2 316.05a4.15 4.15 0 1 0 0.01 0zM588.8 318.45a4.15 4.15 0 1 0 0.01 0zM562.4 306.45a4.15 4.15 0 1 0 0.01 0zM570.8 302.85a4.15 4.15 0 1 0 0.01 0z" fill="none" stroke="#0072bd" stroke-width="2.2"/><text x="481.9" y="351.9" font-size="19.8" text-anchor="end" fill="#262626">4</text><text x="481.9" y="329.3" font-size="19.8" text-anchor="end" fill="#262626">5</text><text x="481.9" y="306.7" font-size="19.8" text-anchor="end" fill="#262626">6</text></g><g><path d="M148.45 476.61h1.2v1.5h-1.2zM154 476.61h1.2v1.5h-1.2zM159.55 476.61h1.2v1.5h-1.2zM165.1 476.61h1.2v1.5h-1.2zM170.65 476.61h1.2v1.5h-1.2zM176.2 476.61h1.2v1.5h-1.2zM181.75 476.61h1.2v1.5h-1.2zM187.3 476.61h1.2v1.5h-1.2zM192.85 476.61h1.2v1.5h-1.2zM198.4 476.61h1.2v1.5h-1.2zM203.95 476.61h1.2v1.5h-1.2zM209.5 476.61h1.2v1.5h-1.2zM215.05 476.61h1.2v1.5h-1.2zM220.6 476.61h1.2v1.5h-1.2zM226.15 476.61h1.2v1.5h-1.2zM231.7 476.61h1.2v1.5h-1.2zM237.25 476.61h1.2v1.5h-1.2zM242.8 476.61h1.2v1.5h-1.2zM248.35 476.61h1.2v1.5h-1.2zM253.9 476.61h1.2v1.5h-1.2zM259.45 476.61h1.2v1.5h-1.2zM265 476.61h1.2v1.5h-1.2zM270.55 476.61h1.2v1.5h-1.2zM276.1 476.61h1.2v1.5h-1.2zM281.65 476.61h1.2v1.5h-1.2zM287.2 476.61h1.2v1.5h-1.2zM292.75 476.61h1.2v1.5h-1.2zM298.3 476.61h1.2v1.5h-1.2zM303.85 476.61h1.2v1.5h-1.2zM309.4 476.61h1.2v1.5h-1.2zM314.95 476.61h1.2v1.5h-1.2zM320.5 476.61h1.2v1.5h-1.2zM326.05 476.61h1.2v1.5h-1.2zM331.6 476.61h1.2v1.5h-1.2zM337.15 476.61h1.2v1.5h-1.2zM342.7 476.61h1.2v1.5h-1.2zM348.25 476.61h1.2v1.5h-1.2zM148.45 466.87h1.2v1.5h-1.2zM154 466.87h1.2v1.5h-1.2zM159.55 466.87h1.2v1.5h-1.2zM165.1 466.87h1.2v1.5h-1.2zM170.65 466.87h1.2v1.5h-1.2zM176.2 466.87h1.2v1.5h-1.2zM181.75 466.87h1.2v1.5h-1.2zM187.3 466.87h1.2v1.5h-1.2zM192.85 466.87h1.2v1.5h-1.2zM198.4 466.87h1.2v1.5h-1.2zM203.95 466.87h1.2v1.5h-1.2zM209.5 466.87h1.2v1.5h-1.2zM215.05 466.87h1.2v1.5h-1.2zM220.6 466.87h1.2v1.5h-1.2zM226.15 466.87h1.2v1.5h-1.2zM231.7 466.87h1.2v1.5h-1.2zM237.25 466.87h1.2v1.5h-1.2zM242.8 466.87h1.2v1.5h-1.2zM248.35 466.87h1.2v1.5h-1.2zM253.9 466.87h1.2v1.5h-1.2zM259.45 466.87h1.2v1.5h-1.2zM265 466.87h1.2v1.5h-1.2zM270.55 466.87h1.2v1.5h-1.2zM276.1 466.87h1.2v1.5h-1.2zM281.65 466.87h1.2v1.5h-1.2zM287.2 466.87h1.2v1.5h-1.2zM292.75 466.87h1.2v1.5h-1.2zM298.3 466.87h1.2v1.5h-1.2zM303.85 466.87h1.2v1.5h-1.2zM309.4 466.87h1.2v1.5h-1.2zM314.95 466.87h1.2v1.5h-1.2zM320.5 466.87h1.2v1.5h-1.2zM326.05 466.87h1.2v1.5h-1.2zM331.6 466.87h1.2v1.5h-1.2zM337.15 466.87h1.2v1.5h-1.2zM342.7 466.87h1.2v1.5h-1.2zM348.25 466.87h1.2v1.5h-1.2zM148.45 457.13h1.2v1.5h-1.2zM154 457.13h1.2v1.5h-1.2zM159.55 457.13h1.2v1.5h-1.2zM165.1 457.13h1.2v1.5h-1.2zM170.65 457.13h1.2v1.5h-1.2zM176.2 457.13h1.2v1.5h-1.2zM181.75 457.13h1.2v1.5h-1.2zM187.3 457.13h1.2v1.5h-1.2zM192.85 457.13h1.2v1.5h-1.2zM198.4 457.13h1.2v1.5h-1.2zM203.95 457.13h1.2v1.5h-1.2zM209.5 457.13h1.2v1.5h-1.2zM215.05 457.13h1.2v1.5h-1.2zM220.6 457.13h1.2v1.5h-1.2zM226.15 457.13h1.2v1.5h-1.2zM231.7 457.13h1.2v1.5h-1.2zM237.25 457.13h1.2v1.5h-1.2zM242.8 457.13h1.2v1.5h-1.2zM248.35 457.13h1.2v1.5h-1.2zM253.9 457.13h1.2v1.5h-1.2zM259.45 457.13h1.2v1.5h-1.2zM265 457.13h1.2v1.5h-1.2zM270.55 457.13h1.2v1.5h-1.2zM276.1 457.13h1.2v1.5h-1.2zM281.65 457.13h1.2v1.5h-1.2zM287.2 457.13h1.2v1.5h-1.2zM292.75 457.13h1.2v1.5h-1.2zM298.3 457.13h1.2v1.5h-1.2zM303.85 457.13h1.2v1.5h-1.2zM309.4 457.13h1.2v1.5h-1.2zM314.95 457.13h1.2v1.5h-1.2zM320.5 457.13h1.2v1.5h-1.2zM326.05 457.13h1.2v1.5h-1.2zM331.6 457.13h1.2v1.5h-1.2zM337.15 457.13h1.2v1.5h-1.2zM342.7 457.13h1.2v1.5h-1.2zM348.25 457.13h1.2v1.5h-1.2zM148.45 447.39h1.2v1.5h-1.2zM154 447.39h1.2v1.5h-1.2zM159.55 447.39h1.2v1.5h-1.2zM165.1 447.39h1.2v1.5h-1.2zM170.65 447.39h1.2v1.5h-1.2zM176.2 447.39h1.2v1.5h-1.2zM181.75 447.39h1.2v1.5h-1.2zM187.3 447.39h1.2v1.5h-1.2zM192.85 447.39h1.2v1.5h-1.2zM198.4 447.39h1.2v1.5h-1.2zM203.95 447.39h1.2v1.5h-1.2zM209.5 447.39h1.2v1.5h-1.2zM215.05 447.39h1.2v1.5h-1.2zM220.6 447.39h1.2v1.5h-1.2zM226.15 447.39h1.2v1.5h-1.2zM231.7 447.39h1.2v1.5h-1.2zM237.25 447.39h1.2v1.5h-1.2zM242.8 447.39h1.2v1.5h-1.2zM248.35 447.39h1.2v1.5h-1.2zM253.9 447.39h1.2v1.5h-1.2zM259.45 447.39h1.2v1.5h-1.2zM265 447.39h1.2v1.5h-1.2zM270.55 447.39h1.2v1.5h-1.2zM276.1 447.39h1.2v1.5h-1.2zM281.65 447.39h1.2v1.5h-1.2zM287.2 447.39h1.2v1.5h-1.2zM292.75 447.39h1.2v1.5h-1.2zM298.3 447.39h1.2v1.5h-1.2zM303.85 447.39h1.2v1.5h-1.2zM309.4 447.39h1.2v1.5h-1.2zM314.95 447.39h1.2v1.5h-1.2zM320.5 447.39h1.2v1.5h-1.2zM326.05 447.39h1.2v1.5h-1.2zM331.6 447.39h1.2v1.5h-1.2zM337.15 447.39h1.2v1.5h-1.2zM342.7 447.39h1.2v1.5h-1.2zM348.25 447.39h1.2v1.5h-1.2zM148.45 427.91h1.2v1.5h-1.2zM154 427.91h1.2v1.5h-1.2zM159.55 427.91h1.2v1.5h-1.2zM165.1 427.91h1.2v1.5h-1.2zM170.65 427.91h1.2v1.5h-1.2zM176.2 427.91h1.2v1.5h-1.2zM181.75 427.91h1.2v1.5h-1.2zM187.3 427.91h1.2v1.5h-1.2zM192.85 427.91h1.2v1.5h-1.2zM198.4 427.91h1.2v1.5h-1.2zM203.95 427.91h1.2v1.5h-1.2zM209.5 427.91h1.2v1.5h-1.2zM215.05 427.91h1.2v1.5h-1.2zM220.6 427.91h1.2v1.5h-1.2zM226.15 427.91h1.2v1.5h-1.2zM231.7 427.91h1.2v1.5h-1.2zM237.25 427.91h1.2v1.5h-1.2zM242.8 427.91h1.2v1.5h-1.2zM248.35 427.91h1.2v1.5h-1.2zM253.9 427.91h1.2v1.5h-1.2zM259.45 427.91h1.2v1.5h-1.2zM265 427.91h1.2v1.5h-1.2zM270.55 427.91h1.2v1.5h-1.2zM276.1 427.91h1.2v1.5h-1.2zM281.65 427.91h1.2v1.5h-1.2zM287.2 427.91h1.2v1.5h-1.2zM292.75 427.91h1.2v1.5h-1.2zM298.3 427.91h1.2v1.5h-1.2zM303.85 427.91h1.2v1.5h-1.2zM309.4 427.91h1.2v1.5h-1.2zM314.95 427.91h1.2v1.5h-1.2zM320.5 427.91h1.2v1.5h-1.2zM326.05 427.91h1.2v1.5h-1.2zM331.6 427.91h1.2v1.5h-1.2zM337.15 427.91h1.2v1.5h-1.2zM342.7 427.91h1.2v1.5h-1.2zM348.25 427.91h1.2v1.5h-1.2z" fill="#adadad"/><path d="M147.3 438.4H355.5M188.94 427.3V487.3M230.58 427.3V487.3M272.22 427.3V487.3M313.86 427.3V487.3" stroke="#dcdcdc" stroke-width="1.6" fill="none"/><path d="M147.3 487.1h3.2M355.5 487.1h-3.2M147.3 438.4h3.2M355.5 438.4h-3.2M188.94 487.3v-3.2M188.94 427.3v3.2M230.58 487.3v-3.2M230.58 427.3v3.2M272.22 487.3v-3.2M272.22 427.3v3.2M313.86 487.3v-3.2M313.86 427.3v3.2" stroke="#262626" stroke-width="1.9" fill="none"/><rect x="147.3" y="427.3" width="208.2" height="60" fill="none" stroke="#262626" stroke-width="2.3"/><path d="M178.8 482.85a4.15 4.15 0 1 0 0.01 0zM180.51 482.85a4.15 4.15 0 1 0 0.01 0zM182.22 482.85a4.15 4.15 0 1 0 0.01 0zM183.93 482.85a4.15 4.15 0 1 0 0.01 0zM185.64 482.85a4.15 4.15 0 1 0 0.01 0zM187.36 482.85a4.15 4.15 0 1 0 0.01 0zM189.07 482.85a4.15 4.15 0 1 0 0.01 0zM190.78 482.85a4.15 4.15 0 1 0 0.01 0zM192.49 482.85a4.15 4.15 0 1 0 0.01 0zM194.2 482.85a4.15 4.15 0 1 0 0.01 0zM195.91 482.85a4.15 4.15 0 1 0 0.01 0zM197.62 482.85a4.15 4.15 0 1 0 0.01 0zM199.33 482.85a4.15 4.15 0 1 0 0.01 0zM201.04 482.85a4.15 4.15 0 1 0 0.01 0zM202.76 482.85a4.15 4.15 0 1 0 0.01 0zM204.47 482.85a4.15 4.15 0 1 0 0.01 0zM206.18 482.85a4.15 4.15 0 1 0 0.01 0zM207.89 482.85a4.15 4.15 0 1 0 0.01 0zM209.6 482.85a4.15 4.15 0 1 0 0.01 0zM211.31 482.85a4.15 4.15 0 1 0 0.01 0zM213.02 482.85a4.15 4.15 0 1 0 0.01 0zM214.73 482.85a4.15 4.15 0 1 0 0.01 0zM216.44 482.85a4.15 4.15 0 1 0 0.01 0zM218.16 482.85a4.15 4.15 0 1 0 0.01 0zM219.87 482.85a4.15 4.15 0 1 0 0.01 0zM221.58 482.85a4.15 4.15 0 1 0 0.01 0zM223.29 482.85a4.15 4.15 0 1 0 0.01 0zM225 482.85a4.15 4.15 0 1 0 0.01 0zM226.3 480.25a4.15 4.15 0 1 0 0.01 0zM227.6 472.45a4.15 4.15 0 1 0 0.01 0zM229.5 469.85a4.15 4.15 0 1 0 0.01 0zM231.4 468.65a4.15 4.15 0 1 0 0.01 0zM233.5 469.85a4.15 4.15 0 1 0 0.01 0zM235.3 471.15a4.15 4.15 0 1 0 0.01 0zM237.3 468.85a4.15 4.15 0 1 0 0.01 0zM239.2 467.35a4.15 4.15 0 1 0 0.01 0zM241 465.85a4.15 4.15 0 1 0 0.01 0zM243 464.75a4.15 4.15 0 1 0 0.01 0zM245.6 458.35a4.15 4.15 0 1 0 0.01 0zM247.5 449.95a4.15 4.15 0 1 0 0.01 0zM249.5 440.35a4.15 4.15 0 1 0 0.01 0zM251.5 442.85a4.15 4.15 0 1 0 0.01 0zM255.9 435.15a4.15 4.15 0 1 0 0.01 0zM254 455.75a4.15 4.15 0 1 0 0.01 0zM258.5 448.05a4.15 4.15 0 1 0 0.01 0zM259.7 463.45a4.15 4.15 0 1 0 0.01 0zM262.3 457.05a4.15 4.15 0 1 0 0.01 0zM264.9 448.05a4.15 4.15 0 1 0 0.01 0zM265.5 451.85a4.15 4.15 0 1 0 0.01 0zM268.8 435.15a4.15 4.15 0 1 0 0.01 0zM271.3 436.45a4.15 4.15 0 1 0 0.01 0zM270 424.85a4.15 4.15 0 1 0 0.01 0zM277.8 422.95a4.15 4.15 0 1 0 0.01 0zM273.9 454.45a4.15 4.15 0 1 0 0.01 0zM275.2 449.35a4.15 4.15 0 1 0 0.01 0zM279 448.05a4.15 4.15 0 1 0 0.01 0zM281 471.39a4.15 4.15 0 1 0 0.01 0zM282.74 470.42a4.15 4.15 0 1 0 0.01 0zM284.48 472.93a4.15 4.15 0 1 0 0.01 0zM286.22 472.37a4.15 4.15 0 1 0 0.01 0zM287.96 474.8a4.15 4.15 0 1 0 0.01 0zM289.7 473.68a4.15 4.15 0 1 0 0.01 0zM291.44 474.69a4.15 4.15 0 1 0 0.01 0zM293.18 472.48a4.15 4.15 0 1 0 0.01 0zM294.92 473.19a4.15 4.15 0 1 0 0.01 0zM296.66 471.16a4.15 4.15 0 1 0 0.01 0zM298.41 474.52a4.15 4.15 0 1 0 0.01 0zM300.15 474.88a4.15 4.15 0 1 0 0.01 0zM301.89 478.4a4.15 4.15 0 1 0 0.01 0zM303.63 478.72a4.15 4.15 0 1 0 0.01 0zM305.37 481.69a4.15 4.15 0 1 0 0.01 0zM307.11 480.95a4.15 4.15 0 1 0 0.01 0zM308.85 482.45a4.15 4.15 0 1 0 0.01 0zM310.59 479.94a4.15 4.15 0 1 0 0.01 0zM312.33 480.41a4.15 4.15 0 1 0 0.01 0zM314.07 478.35a4.15 4.15 0 1 0 0.01 0zM315.81 479.48a4.15 4.15 0 1 0 0.01 0zM317.55 478.03a4.15 4.15 0 1 0 0.01 0zM319.29 481.02a4.15 4.15 0 1 0 0.01 0zM321.03 480.83a4.15 4.15 0 1 0 0.01 0zM322.77 482.6a4.15 4.15 0 1 0 0.01 0zM324.51 481.63a4.15 4.15 0 1 0 0.01 0zM326.25 483.27a4.15 4.15 0 1 0 0.01 0zM327.99 481.56a4.15 4.15 0 1 0 0.01 0zM329.74 482.71a4.15 4.15 0 1 0 0.01 0zM331.48 480.5a4.15 4.15 0 1 0 0.01 0zM333.22 481.78a4.15 4.15 0 1 0 0.01 0zM334.96 480.75a4.15 4.15 0 1 0 0.01 0zM336.7 483.21a4.15 4.15 0 1 0 0.01 0zM338.44 482.07a4.15 4.15 0 1 0 0.01 0zM340.18 483.14a4.15 4.15 0 1 0 0.01 0zM341.92 481.02a4.15 4.15 0 1 0 0.01 0zM343.66 482.14a4.15 4.15 0 1 0 0.01 0zM345.4 480.37a4.15 4.15 0 1 0 0.01 0z" fill="none" stroke="#0072bd" stroke-width="2.2"/><text x="138.7" y="494.7" font-size="19.8" text-anchor="end" fill="#262626">0</text><text x="138.7" y="446" font-size="19.8" text-anchor="end" fill="#262626">500</text></g><g><path d="M491.65 479.15h1.2v1.5h-1.2zM497.2 479.15h1.2v1.5h-1.2zM502.75 479.15h1.2v1.5h-1.2zM508.3 479.15h1.2v1.5h-1.2zM513.85 479.15h1.2v1.5h-1.2zM519.4 479.15h1.2v1.5h-1.2zM524.95 479.15h1.2v1.5h-1.2zM530.5 479.15h1.2v1.5h-1.2zM536.05 479.15h1.2v1.5h-1.2zM541.6 479.15h1.2v1.5h-1.2zM547.15 479.15h1.2v1.5h-1.2zM552.7 479.15h1.2v1.5h-1.2zM558.25 479.15h1.2v1.5h-1.2zM563.8 479.15h1.2v1.5h-1.2zM569.35 479.15h1.2v1.5h-1.2zM574.9 479.15h1.2v1.5h-1.2zM580.45 479.15h1.2v1.5h-1.2zM586 479.15h1.2v1.5h-1.2zM591.55 479.15h1.2v1.5h-1.2zM597.1 479.15h1.2v1.5h-1.2zM602.65 479.15h1.2v1.5h-1.2zM608.2 479.15h1.2v1.5h-1.2zM613.75 479.15h1.2v1.5h-1.2zM619.3 479.15h1.2v1.5h-1.2zM624.85 479.15h1.2v1.5h-1.2zM630.4 479.15h1.2v1.5h-1.2zM635.95 479.15h1.2v1.5h-1.2zM641.5 479.15h1.2v1.5h-1.2zM647.05 479.15h1.2v1.5h-1.2zM652.6 479.15h1.2v1.5h-1.2zM658.15 479.15h1.2v1.5h-1.2zM663.7 479.15h1.2v1.5h-1.2zM669.25 479.15h1.2v1.5h-1.2zM674.8 479.15h1.2v1.5h-1.2zM680.35 479.15h1.2v1.5h-1.2zM685.9 479.15h1.2v1.5h-1.2zM691.45 479.15h1.2v1.5h-1.2zM491.65 471.65h1.2v1.5h-1.2zM497.2 471.65h1.2v1.5h-1.2zM502.75 471.65h1.2v1.5h-1.2zM508.3 471.65h1.2v1.5h-1.2zM513.85 471.65h1.2v1.5h-1.2zM519.4 471.65h1.2v1.5h-1.2zM524.95 471.65h1.2v1.5h-1.2zM530.5 471.65h1.2v1.5h-1.2zM536.05 471.65h1.2v1.5h-1.2zM541.6 471.65h1.2v1.5h-1.2zM547.15 471.65h1.2v1.5h-1.2zM552.7 471.65h1.2v1.5h-1.2zM558.25 471.65h1.2v1.5h-1.2zM563.8 471.65h1.2v1.5h-1.2zM569.35 471.65h1.2v1.5h-1.2zM574.9 471.65h1.2v1.5h-1.2zM580.45 471.65h1.2v1.5h-1.2zM586 471.65h1.2v1.5h-1.2zM591.55 471.65h1.2v1.5h-1.2zM597.1 471.65h1.2v1.5h-1.2zM602.65 471.65h1.2v1.5h-1.2zM608.2 471.65h1.2v1.5h-1.2zM613.75 471.65h1.2v1.5h-1.2zM619.3 471.65h1.2v1.5h-1.2zM624.85 471.65h1.2v1.5h-1.2zM630.4 471.65h1.2v1.5h-1.2zM635.95 471.65h1.2v1.5h-1.2zM641.5 471.65h1.2v1.5h-1.2zM647.05 471.65h1.2v1.5h-1.2zM652.6 471.65h1.2v1.5h-1.2zM658.15 471.65h1.2v1.5h-1.2zM663.7 471.65h1.2v1.5h-1.2zM669.25 471.65h1.2v1.5h-1.2zM674.8 471.65h1.2v1.5h-1.2zM680.35 471.65h1.2v1.5h-1.2zM685.9 471.65h1.2v1.5h-1.2zM691.45 471.65h1.2v1.5h-1.2zM491.65 464.15h1.2v1.5h-1.2zM497.2 464.15h1.2v1.5h-1.2zM502.75 464.15h1.2v1.5h-1.2zM508.3 464.15h1.2v1.5h-1.2zM513.85 464.15h1.2v1.5h-1.2zM519.4 464.15h1.2v1.5h-1.2zM524.95 464.15h1.2v1.5h-1.2zM530.5 464.15h1.2v1.5h-1.2zM536.05 464.15h1.2v1.5h-1.2zM541.6 464.15h1.2v1.5h-1.2zM547.15 464.15h1.2v1.5h-1.2zM552.7 464.15h1.2v1.5h-1.2zM558.25 464.15h1.2v1.5h-1.2zM563.8 464.15h1.2v1.5h-1.2zM569.35 464.15h1.2v1.5h-1.2zM574.9 464.15h1.2v1.5h-1.2zM580.45 464.15h1.2v1.5h-1.2zM586 464.15h1.2v1.5h-1.2zM591.55 464.15h1.2v1.5h-1.2zM597.1 464.15h1.2v1.5h-1.2zM602.65 464.15h1.2v1.5h-1.2zM608.2 464.15h1.2v1.5h-1.2zM613.75 464.15h1.2v1.5h-1.2zM619.3 464.15h1.2v1.5h-1.2zM624.85 464.15h1.2v1.5h-1.2zM630.4 464.15h1.2v1.5h-1.2zM635.95 464.15h1.2v1.5h-1.2zM641.5 464.15h1.2v1.5h-1.2zM647.05 464.15h1.2v1.5h-1.2zM652.6 464.15h1.2v1.5h-1.2zM658.15 464.15h1.2v1.5h-1.2zM663.7 464.15h1.2v1.5h-1.2zM669.25 464.15h1.2v1.5h-1.2zM674.8 464.15h1.2v1.5h-1.2zM680.35 464.15h1.2v1.5h-1.2zM685.9 464.15h1.2v1.5h-1.2zM691.45 464.15h1.2v1.5h-1.2zM491.65 449.15h1.2v1.5h-1.2zM497.2 449.15h1.2v1.5h-1.2zM502.75 449.15h1.2v1.5h-1.2zM508.3 449.15h1.2v1.5h-1.2zM513.85 449.15h1.2v1.5h-1.2zM519.4 449.15h1.2v1.5h-1.2zM524.95 449.15h1.2v1.5h-1.2zM530.5 449.15h1.2v1.5h-1.2zM536.05 449.15h1.2v1.5h-1.2zM541.6 449.15h1.2v1.5h-1.2zM547.15 449.15h1.2v1.5h-1.2zM552.7 449.15h1.2v1.5h-1.2zM558.25 449.15h1.2v1.5h-1.2zM563.8 449.15h1.2v1.5h-1.2zM569.35 449.15h1.2v1.5h-1.2zM574.9 449.15h1.2v1.5h-1.2zM580.45 449.15h1.2v1.5h-1.2zM586 449.15h1.2v1.5h-1.2zM591.55 449.15h1.2v1.5h-1.2zM597.1 449.15h1.2v1.5h-1.2zM602.65 449.15h1.2v1.5h-1.2zM608.2 449.15h1.2v1.5h-1.2zM613.75 449.15h1.2v1.5h-1.2zM619.3 449.15h1.2v1.5h-1.2zM624.85 449.15h1.2v1.5h-1.2zM630.4 449.15h1.2v1.5h-1.2zM635.95 449.15h1.2v1.5h-1.2zM641.5 449.15h1.2v1.5h-1.2zM647.05 449.15h1.2v1.5h-1.2zM652.6 449.15h1.2v1.5h-1.2zM658.15 449.15h1.2v1.5h-1.2zM663.7 449.15h1.2v1.5h-1.2zM669.25 449.15h1.2v1.5h-1.2zM674.8 449.15h1.2v1.5h-1.2zM680.35 449.15h1.2v1.5h-1.2zM685.9 449.15h1.2v1.5h-1.2zM691.45 449.15h1.2v1.5h-1.2zM491.65 441.65h1.2v1.5h-1.2zM497.2 441.65h1.2v1.5h-1.2zM502.75 441.65h1.2v1.5h-1.2zM508.3 441.65h1.2v1.5h-1.2zM513.85 441.65h1.2v1.5h-1.2zM519.4 441.65h1.2v1.5h-1.2zM524.95 441.65h1.2v1.5h-1.2zM530.5 441.65h1.2v1.5h-1.2zM536.05 441.65h1.2v1.5h-1.2zM541.6 441.65h1.2v1.5h-1.2zM547.15 441.65h1.2v1.5h-1.2zM552.7 441.65h1.2v1.5h-1.2zM558.25 441.65h1.2v1.5h-1.2zM563.8 441.65h1.2v1.5h-1.2zM569.35 441.65h1.2v1.5h-1.2zM574.9 441.65h1.2v1.5h-1.2zM580.45 441.65h1.2v1.5h-1.2zM586 441.65h1.2v1.5h-1.2zM591.55 441.65h1.2v1.5h-1.2zM597.1 441.65h1.2v1.5h-1.2zM602.65 441.65h1.2v1.5h-1.2zM608.2 441.65h1.2v1.5h-1.2zM613.75 441.65h1.2v1.5h-1.2zM619.3 441.65h1.2v1.5h-1.2zM624.85 441.65h1.2v1.5h-1.2zM630.4 441.65h1.2v1.5h-1.2zM635.95 441.65h1.2v1.5h-1.2zM641.5 441.65h1.2v1.5h-1.2zM647.05 441.65h1.2v1.5h-1.2zM652.6 441.65h1.2v1.5h-1.2zM658.15 441.65h1.2v1.5h-1.2zM663.7 441.65h1.2v1.5h-1.2zM669.25 441.65h1.2v1.5h-1.2zM674.8 441.65h1.2v1.5h-1.2zM680.35 441.65h1.2v1.5h-1.2zM685.9 441.65h1.2v1.5h-1.2zM691.45 441.65h1.2v1.5h-1.2zM491.65 434.15h1.2v1.5h-1.2zM497.2 434.15h1.2v1.5h-1.2zM502.75 434.15h1.2v1.5h-1.2zM508.3 434.15h1.2v1.5h-1.2zM513.85 434.15h1.2v1.5h-1.2zM519.4 434.15h1.2v1.5h-1.2zM524.95 434.15h1.2v1.5h-1.2zM530.5 434.15h1.2v1.5h-1.2zM536.05 434.15h1.2v1.5h-1.2zM541.6 434.15h1.2v1.5h-1.2zM547.15 434.15h1.2v1.5h-1.2zM552.7 434.15h1.2v1.5h-1.2zM558.25 434.15h1.2v1.5h-1.2zM563.8 434.15h1.2v1.5h-1.2zM569.35 434.15h1.2v1.5h-1.2zM574.9 434.15h1.2v1.5h-1.2zM580.45 434.15h1.2v1.5h-1.2zM586 434.15h1.2v1.5h-1.2zM591.55 434.15h1.2v1.5h-1.2zM597.1 434.15h1.2v1.5h-1.2zM602.65 434.15h1.2v1.5h-1.2zM608.2 434.15h1.2v1.5h-1.2zM613.75 434.15h1.2v1.5h-1.2zM619.3 434.15h1.2v1.5h-1.2zM624.85 434.15h1.2v1.5h-1.2zM630.4 434.15h1.2v1.5h-1.2zM635.95 434.15h1.2v1.5h-1.2zM641.5 434.15h1.2v1.5h-1.2zM647.05 434.15h1.2v1.5h-1.2zM652.6 434.15h1.2v1.5h-1.2zM658.15 434.15h1.2v1.5h-1.2zM663.7 434.15h1.2v1.5h-1.2zM669.25 434.15h1.2v1.5h-1.2zM674.8 434.15h1.2v1.5h-1.2zM680.35 434.15h1.2v1.5h-1.2zM685.9 434.15h1.2v1.5h-1.2zM691.45 434.15h1.2v1.5h-1.2z" fill="#adadad"/><path d="M490.5 457.4H698.7M532.14 427.3V487.3M573.78 427.3V487.3M615.42 427.3V487.3M657.06 427.3V487.3" stroke="#dcdcdc" stroke-width="1.6" fill="none"/><path d="M490.5 487.4h3.2M698.7 487.4h-3.2M490.5 457.4h3.2M698.7 457.4h-3.2M490.5 427.4h3.2M698.7 427.4h-3.2M532.14 487.3v-3.2M532.14 427.3v3.2M573.78 487.3v-3.2M573.78 427.3v3.2M615.42 487.3v-3.2M615.42 427.3v3.2M657.06 487.3v-3.2M657.06 427.3v3.2" stroke="#262626" stroke-width="1.9" fill="none"/><rect x="490.5" y="427.3" width="208.2" height="60" fill="none" stroke="#262626" stroke-width="2.3"/><path d="M521.8 476.15a4.15 4.15 0 1 0 0.01 0zM523.5 475.85a4.15 4.15 0 1 0 0.01 0zM525 477.85a4.15 4.15 0 1 0 0.01 0zM527.5 483.05a4.15 4.15 0 1 0 0.01 0zM529.25 483.05a4.15 4.15 0 1 0 0.01 0zM531 483.05a4.15 4.15 0 1 0 0.01 0zM532.75 483.05a4.15 4.15 0 1 0 0.01 0zM534.5 483.05a4.15 4.15 0 1 0 0.01 0zM536.25 483.05a4.15 4.15 0 1 0 0.01 0zM538 483.05a4.15 4.15 0 1 0 0.01 0zM539.75 483.05a4.15 4.15 0 1 0 0.01 0zM541.5 483.05a4.15 4.15 0 1 0 0.01 0zM543.25 483.05a4.15 4.15 0 1 0 0.01 0zM545 483.05a4.15 4.15 0 1 0 0.01 0zM548.3 476.35a4.15 4.15 0 1 0 0.01 0zM549.5 468.65a4.15 4.15 0 1 0 0.01 0zM550.8 465.35a4.15 4.15 0 1 0 0.01 0zM552.1 453.15a4.15 4.15 0 1 0 0.01 0zM554 449.95a4.15 4.15 0 1 0 0.01 0zM555.3 435.85a4.15 4.15 0 1 0 0.01 0zM557.9 424.85a4.15 4.15 0 1 0 0.01 0zM559.2 428.75a4.15 4.15 0 1 0 0.01 0zM561.1 437.75a4.15 4.15 0 1 0 0.01 0zM563.1 450.55a4.15 4.15 0 1 0 0.01 0zM565 458.35a4.15 4.15 0 1 0 0.01 0zM566.9 472.45a4.15 4.15 0 1 0 0.01 0zM568.7 483.05a4.15 4.15 0 1 0 0.01 0zM570.36 483.05a4.15 4.15 0 1 0 0.01 0zM572.01 483.05a4.15 4.15 0 1 0 0.01 0zM573.67 483.05a4.15 4.15 0 1 0 0.01 0zM575.32 483.05a4.15 4.15 0 1 0 0.01 0zM576.98 483.05a4.15 4.15 0 1 0 0.01 0zM578.63 483.05a4.15 4.15 0 1 0 0.01 0zM580.29 483.05a4.15 4.15 0 1 0 0.01 0zM581.94 483.05a4.15 4.15 0 1 0 0.01 0zM583.6 483.05a4.15 4.15 0 1 0 0.01 0zM585.4 476.35a4.15 4.15 0 1 0 0.01 0zM587.4 468.65a4.15 4.15 0 1 0 0.01 0zM589.3 462.15a4.15 4.15 0 1 0 0.01 0zM590.6 454.45a4.15 4.15 0 1 0 0.01 0zM592.5 444.15a4.15 4.15 0 1 0 0.01 0zM594.5 436.45a4.15 4.15 0 1 0 0.01 0zM597 433.85a4.15 4.15 0 1 0 0.01 0zM599.6 431.95a4.15 4.15 0 1 0 0.01 0zM597.7 439.65a4.15 4.15 0 1 0 0.01 0zM601.5 441.55a4.15 4.15 0 1 0 0.01 0zM602.8 451.85a4.15 4.15 0 1 0 0.01 0zM604.7 458.35a4.15 4.15 0 1 0 0.01 0zM606.7 468.65a4.15 4.15 0 1 0 0.01 0zM608.6 475.05a4.15 4.15 0 1 0 0.01 0zM611 483.05a4.15 4.15 0 1 0 0.01 0zM612.78 483.05a4.15 4.15 0 1 0 0.01 0zM614.56 483.05a4.15 4.15 0 1 0 0.01 0zM616.33 483.05a4.15 4.15 0 1 0 0.01 0zM618.11 483.05a4.15 4.15 0 1 0 0.01 0zM619.89 483.05a4.15 4.15 0 1 0 0.01 0zM621.67 483.05a4.15 4.15 0 1 0 0.01 0zM623.44 483.05a4.15 4.15 0 1 0 0.01 0zM625.22 483.05a4.15 4.15 0 1 0 0.01 0zM627 483.05a4.15 4.15 0 1 0 0.01 0zM628.7 481.15a4.15 4.15 0 1 0 0.01 0zM630.44 479.41a4.15 4.15 0 1 0 0.01 0zM632.17 477.68a4.15 4.15 0 1 0 0.01 0zM633.91 475.94a4.15 4.15 0 1 0 0.01 0zM635.64 474.21a4.15 4.15 0 1 0 0.01 0zM637.38 472.3a4.15 4.15 0 1 0 0.01 0zM639.11 470.35a4.15 4.15 0 1 0 0.01 0zM640.85 468.41a4.15 4.15 0 1 0 0.01 0zM642.59 469.58a4.15 4.15 0 1 0 0.01 0zM644.32 470.85a4.15 4.15 0 1 0 0.01 0zM646.06 472.58a4.15 4.15 0 1 0 0.01 0zM647.79 474.61a4.15 4.15 0 1 0 0.01 0zM649.53 477.17a4.15 4.15 0 1 0 0.01 0zM651.26 479.8a4.15 4.15 0 1 0 0.01 0zM653 483.05a4.15 4.15 0 1 0 0.01 0zM654.7 483.05a4.15 4.15 0 1 0 0.01 0zM656.36 483.05a4.15 4.15 0 1 0 0.01 0zM658.03 483.05a4.15 4.15 0 1 0 0.01 0zM659.69 483.05a4.15 4.15 0 1 0 0.01 0zM661.35 483.05a4.15 4.15 0 1 0 0.01 0zM663.01 483.05a4.15 4.15 0 1 0 0.01 0zM664.67 483.05a4.15 4.15 0 1 0 0.01 0zM666.34 483.05a4.15 4.15 0 1 0 0.01 0zM668 483.05a4.15 4.15 0 1 0 0.01 0zM669.7 475.77a4.15 4.15 0 1 0 0.01 0zM671.39 470.67a4.15 4.15 0 1 0 0.01 0zM673.08 468.59a4.15 4.15 0 1 0 0.01 0zM674.77 469.17a4.15 4.15 0 1 0 0.01 0zM676.46 470.2a4.15 4.15 0 1 0 0.01 0zM678.15 471.47a4.15 4.15 0 1 0 0.01 0zM679.85 472.73a4.15 4.15 0 1 0 0.01 0zM681.54 474.77a4.15 4.15 0 1 0 0.01 0zM683.23 476.88a4.15 4.15 0 1 0 0.01 0zM684.92 478.87a4.15 4.15 0 1 0 0.01 0zM686.61 480.75a4.15 4.15 0 1 0 0.01 0zM688.3 482.63a4.15 4.15 0 1 0 0.01 0z" fill="none" stroke="#0072bd" stroke-width="2.2"/><text x="481.9" y="495" font-size="19.8" text-anchor="end" fill="#262626">0</text><text x="481.9" y="465" font-size="19.8" text-anchor="end" fill="#262626">200</text><text x="481.9" y="435" font-size="19.8" text-anchor="end" fill="#262626">400</text></g><text x="187.9" y="31.9" font-size="21.7" font-weight="bold" fill="#000" stroke="none" textLength="127.7" lengthAdjust="spacingAndGlyphs">Figure 3 low</text><text transform="translate(83.9 124.9) rotate(-90)" font-size="21.4" fill="#262626" textLength="101.3" lengthAdjust="spacingAndGlyphs">PRESSURE</text><text transform="translate(437.6 108) rotate(-90)" font-size="21.4" fill="#262626" textLength="67.5" lengthAdjust="spacingAndGlyphs">THETA</text><text transform="translate(86.6 246.4) rotate(-90)" font-size="21.4" fill="#262626" textLength="35" lengthAdjust="spacingAndGlyphs">AIR</text><text transform="translate(96 212.9) rotate(-90)" font-size="15.5" fill="#262626" textLength="12.6" lengthAdjust="spacingAndGlyphs">T</text><text transform="translate(86.6 200.9) rotate(-90)" font-size="21.4" fill="#262626" textLength="44.4" lengthAdjust="spacingAndGlyphs">EMP</text><text transform="translate(445 249) rotate(-90)" font-size="21.4" fill="#262626" textLength="95.9" lengthAdjust="spacingAndGlyphs">RAINFALL</text><text transform="translate(84.7 383.3) rotate(-90)" font-size="21.4" fill="#262626" textLength="106.7" lengthAdjust="spacingAndGlyphs">MIXDEPTH</text><text transform="translate(460.2 384.4) rotate(-90)" font-size="21.4" fill="#262626" textLength="111.7" lengthAdjust="spacingAndGlyphs">H2OMIXRA</text><text transform="translate(85.7 503.2) rotate(-90)" font-size="21.4" fill="#262626" textLength="50.8" lengthAdjust="spacingAndGlyphs">TERR</text><text transform="translate(95.2 452.8) rotate(-90)" font-size="15.5" fill="#262626" textLength="17.9" lengthAdjust="spacingAndGlyphs">M</text><text transform="translate(85.7 434.2) rotate(-90)" font-size="21.4" fill="#262626" textLength="22.9" lengthAdjust="spacingAndGlyphs">SL</text><text transform="translate(399.7 504.2) rotate(-90)" font-size="21.4" fill="#262626" textLength="43.5" lengthAdjust="spacingAndGlyphs">SUN</text><text transform="translate(407.9 461) rotate(-90)" font-size="15.5" fill="#262626" textLength="13.9" lengthAdjust="spacingAndGlyphs">F</text><text transform="translate(399.7 445.6) rotate(-90)" font-size="21.4" fill="#262626" textLength="36.4" lengthAdjust="spacingAndGlyphs">LUX</text><text x="250.5" y="575.9" font-size="22.1" fill="#262626" text-anchor="middle">Time</text><text transform="translate(160.5 509.1) rotate(-45)" font-size="20.1" fill="#262626" text-anchor="end">10/22</text><text transform="translate(202.14 509.1) rotate(-45)" font-size="20.1" fill="#262626" text-anchor="end">10/23</text><text transform="translate(243.78 509.1) rotate(-45)" font-size="20.1" fill="#262626" text-anchor="end">10/24</text><text transform="translate(285.42 509.1) rotate(-45)" font-size="20.1" fill="#262626" text-anchor="end">10/25</text><text transform="translate(327.06 509.1) rotate(-45)" font-size="20.1" fill="#262626" text-anchor="end">10/26</text><text transform="translate(368.7 509.1) rotate(-45)" font-size="20.1" fill="#262626" text-anchor="end">10/27</text><text x="594.1" y="575.9" font-size="22.1" fill="#262626" text-anchor="middle">Time</text><text transform="translate(503.7 509.1) rotate(-45)" font-size="20.1" fill="#262626" text-anchor="end">10/22</text><text transform="translate(545.34 509.1) rotate(-45)" font-size="20.1" fill="#262626" text-anchor="end">10/23</text><text transform="translate(586.98 509.1) rotate(-45)" font-size="20.1" fill="#262626" text-anchor="end">10/24</text><text transform="translate(628.62 509.1) rotate(-45)" font-size="20.1" fill="#262626" text-anchor="end">10/25</text><text transform="translate(670.26 509.1) rotate(-45)" font-size="20.1" fill="#262626" text-anchor="end">10/26</text><text transform="translate(711.9 509.1) rotate(-45)" font-size="20.1" fill="#262626" text-anchor="end">10/27</text></svg></body></html>
